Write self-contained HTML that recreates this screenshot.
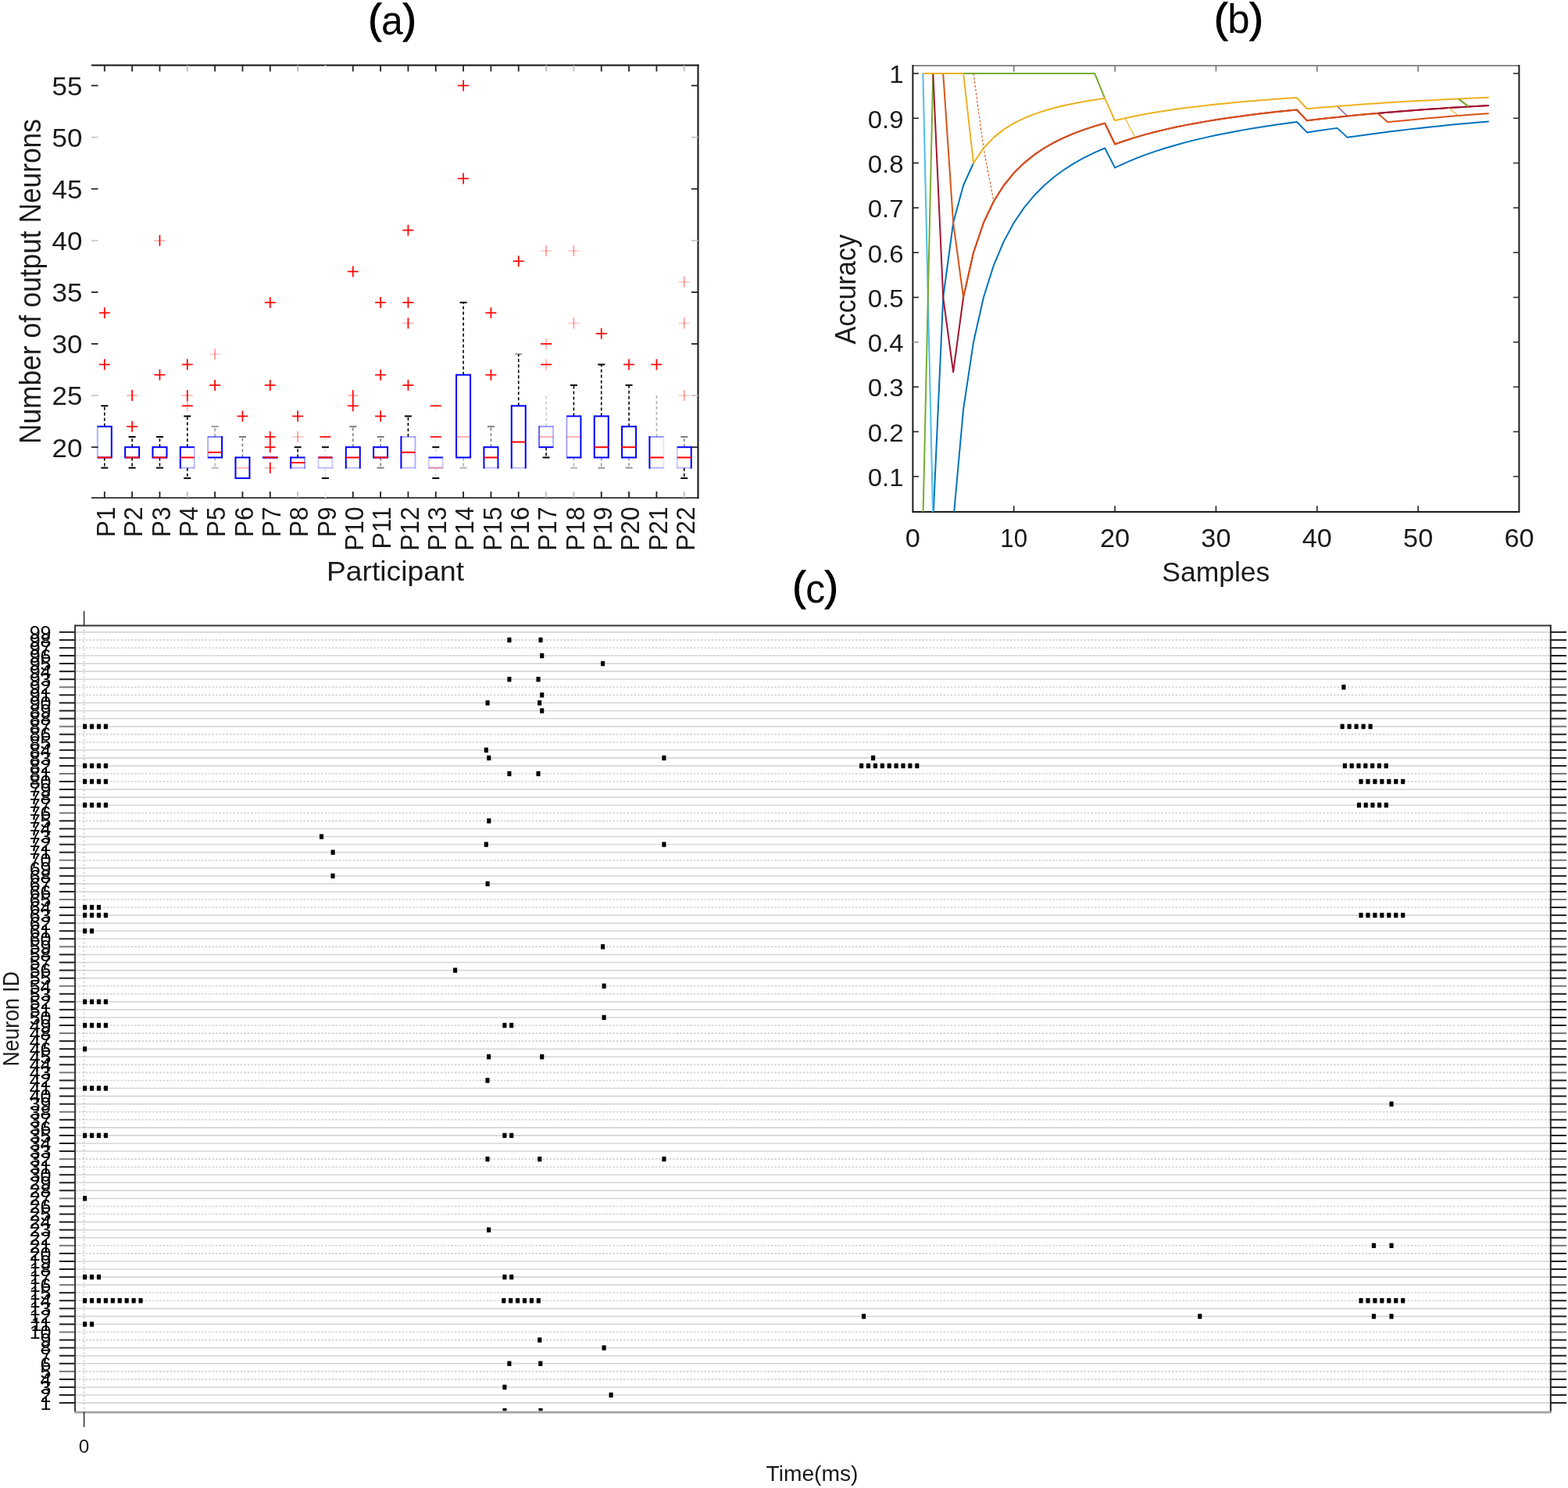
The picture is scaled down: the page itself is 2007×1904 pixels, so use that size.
<!DOCTYPE html>
<html><head><meta charset="utf-8"><title>Figure</title>
<style>html,body{margin:0;padding:0;background:#fff;}svg{display:block;}</style></head>
<body>
<svg width="2007" height="1904" viewBox="0 0 2007 1904" font-family="'Liberation Sans', Arial, Helvetica, sans-serif">
<rect width="100%" height="100%" fill="#fff"/>
<defs><clipPath id="cc"><rect x="96.1" y="800.6" width="1888.7" height="1004.7"/></clipPath></defs>
<text transform="translate(502 41.5) scale(0.96 1)" font-size="52" text-anchor="middle" fill="#000"><tspan stroke="#000" stroke-width="1.3">(</tspan><tspan dy="2.5">a</tspan><tspan dy="-2.5" stroke="#000" stroke-width="1.3">)</tspan></text>
<text transform="translate(1585.5 41) scale(0.98 1)" font-size="52" text-anchor="middle" fill="#000"><tspan stroke="#000" stroke-width="1.3">(</tspan><tspan dy="1.3">b</tspan><tspan dy="-1.3" stroke="#000" stroke-width="1.3">)</tspan></text>
<text transform="translate(1043.6 768) scale(0.96 1)" font-size="52" text-anchor="middle" fill="#000"><tspan stroke="#000" stroke-width="1.3">(</tspan><tspan dy="3">c</tspan><tspan dy="-3" stroke="#000" stroke-width="1.3">)</tspan></text>
<line x1="117" y1="83.5" x2="894.5" y2="83.5" stroke="#111" stroke-width="2.2"/>
<line x1="117" y1="637" x2="894.5" y2="637" stroke="#444" stroke-width="1.8"/>
<line x1="893.5" y1="82.5" x2="893.5" y2="638" stroke="#222" stroke-width="2.2"/>
<line x1="117" y1="572.2" x2="125.5" y2="572.2" stroke="#222" stroke-width="1.8"/>
<line x1="885" y1="572.2" x2="893.5" y2="572.2" stroke="#222" stroke-width="1.8"/>
<text transform="translate(105.5 584.5) scale(1.06 1)" font-size="33" text-anchor="end" fill="#1a1a1a">20</text>
<line x1="117" y1="506.1" x2="125.5" y2="506.1" stroke="#c8c8c8" stroke-width="1.8"/>
<line x1="885" y1="506.1" x2="893.5" y2="506.1" stroke="#c8c8c8" stroke-width="1.8"/>
<text transform="translate(105.5 518.4) scale(1.06 1)" font-size="33" text-anchor="end" fill="#1a1a1a">25</text>
<line x1="117" y1="440" x2="125.5" y2="440" stroke="#222" stroke-width="1.8"/>
<line x1="885" y1="440" x2="893.5" y2="440" stroke="#222" stroke-width="1.8"/>
<text transform="translate(105.5 452.3) scale(1.06 1)" font-size="33" text-anchor="end" fill="#1a1a1a">30</text>
<line x1="117" y1="373.9" x2="125.5" y2="373.9" stroke="#222" stroke-width="1.8"/>
<line x1="885" y1="373.9" x2="893.5" y2="373.9" stroke="#222" stroke-width="1.8"/>
<text transform="translate(105.5 386.2) scale(1.06 1)" font-size="33" text-anchor="end" fill="#1a1a1a">35</text>
<line x1="117" y1="307.8" x2="125.5" y2="307.8" stroke="#c8c8c8" stroke-width="1.8"/>
<line x1="885" y1="307.8" x2="893.5" y2="307.8" stroke="#c8c8c8" stroke-width="1.8"/>
<text transform="translate(105.5 320.1) scale(1.06 1)" font-size="33" text-anchor="end" fill="#1a1a1a">40</text>
<line x1="117" y1="241.7" x2="125.5" y2="241.7" stroke="#222" stroke-width="1.8"/>
<line x1="885" y1="241.7" x2="893.5" y2="241.7" stroke="#222" stroke-width="1.8"/>
<text transform="translate(105.5 254) scale(1.06 1)" font-size="33" text-anchor="end" fill="#1a1a1a">45</text>
<line x1="117" y1="175.6" x2="125.5" y2="175.6" stroke="#c8c8c8" stroke-width="1.8"/>
<line x1="885" y1="175.6" x2="893.5" y2="175.6" stroke="#c8c8c8" stroke-width="1.8"/>
<text transform="translate(105.5 187.9) scale(1.06 1)" font-size="33" text-anchor="end" fill="#1a1a1a">50</text>
<line x1="117" y1="109.5" x2="125.5" y2="109.5" stroke="#222" stroke-width="1.8"/>
<line x1="885" y1="109.5" x2="893.5" y2="109.5" stroke="#222" stroke-width="1.8"/>
<text transform="translate(105.5 121.8) scale(1.06 1)" font-size="33" text-anchor="end" fill="#1a1a1a">55</text>
<line x1="133.8" y1="637" x2="133.8" y2="629" stroke="#222" stroke-width="1.8"/>
<line x1="133.8" y1="83.5" x2="133.8" y2="91.5" stroke="#222" stroke-width="1.8"/>
<text transform="translate(147 648.5) rotate(-90) scale(1 1.07)" font-size="31.6" text-anchor="end" fill="#1a1a1a">P1</text>
<line x1="169.13" y1="637" x2="169.13" y2="629" stroke="#222" stroke-width="1.8"/>
<line x1="169.13" y1="83.5" x2="169.13" y2="91.5" stroke="#222" stroke-width="1.8"/>
<text transform="translate(182.33 648.5) rotate(-90) scale(1 1.07)" font-size="31.6" text-anchor="end" fill="#1a1a1a">P2</text>
<line x1="204.46" y1="637" x2="204.46" y2="629" stroke="#222" stroke-width="1.8"/>
<line x1="204.46" y1="83.5" x2="204.46" y2="91.5" stroke="#222" stroke-width="1.8"/>
<text transform="translate(217.66 648.5) rotate(-90) scale(1 1.07)" font-size="31.6" text-anchor="end" fill="#1a1a1a">P3</text>
<line x1="239.79" y1="637" x2="239.79" y2="629" stroke="#bdbdbd" stroke-width="1.8"/>
<line x1="239.79" y1="83.5" x2="239.79" y2="91.5" stroke="#bdbdbd" stroke-width="1.8"/>
<text transform="translate(252.99 648.5) rotate(-90) scale(1 1.07)" font-size="31.6" text-anchor="end" fill="#1a1a1a">P4</text>
<line x1="275.12" y1="637" x2="275.12" y2="629" stroke="#222" stroke-width="1.8"/>
<line x1="275.12" y1="83.5" x2="275.12" y2="91.5" stroke="#222" stroke-width="1.8"/>
<text transform="translate(288.32 648.5) rotate(-90) scale(1 1.07)" font-size="31.6" text-anchor="end" fill="#1a1a1a">P5</text>
<line x1="310.45" y1="637" x2="310.45" y2="629" stroke="#222" stroke-width="1.8"/>
<line x1="310.45" y1="83.5" x2="310.45" y2="91.5" stroke="#222" stroke-width="1.8"/>
<text transform="translate(323.65 648.5) rotate(-90) scale(1 1.07)" font-size="31.6" text-anchor="end" fill="#1a1a1a">P6</text>
<line x1="345.78" y1="637" x2="345.78" y2="629" stroke="#222" stroke-width="1.8"/>
<line x1="345.78" y1="83.5" x2="345.78" y2="91.5" stroke="#222" stroke-width="1.8"/>
<text transform="translate(358.98 648.5) rotate(-90) scale(1 1.07)" font-size="31.6" text-anchor="end" fill="#1a1a1a">P7</text>
<line x1="381.11" y1="637" x2="381.11" y2="629" stroke="#bdbdbd" stroke-width="1.8"/>
<line x1="381.11" y1="83.5" x2="381.11" y2="91.5" stroke="#bdbdbd" stroke-width="1.8"/>
<text transform="translate(394.31 648.5) rotate(-90) scale(1 1.07)" font-size="31.6" text-anchor="end" fill="#1a1a1a">P8</text>
<line x1="416.44" y1="637" x2="416.44" y2="629" stroke="#f0f0f0" stroke-width="1.8"/>
<line x1="416.44" y1="83.5" x2="416.44" y2="91.5" stroke="#f0f0f0" stroke-width="1.8"/>
<text transform="translate(429.64 648.5) rotate(-90) scale(1 1.07)" font-size="31.6" text-anchor="end" fill="#1a1a1a">P9</text>
<line x1="451.77" y1="637" x2="451.77" y2="629" stroke="#222" stroke-width="1.8"/>
<line x1="451.77" y1="83.5" x2="451.77" y2="91.5" stroke="#222" stroke-width="1.8"/>
<text transform="translate(464.97 648.5) rotate(-90) scale(1 1.07)" font-size="31.6" text-anchor="end" fill="#1a1a1a">P10</text>
<line x1="487.1" y1="637" x2="487.1" y2="629" stroke="#222" stroke-width="1.8"/>
<line x1="487.1" y1="83.5" x2="487.1" y2="91.5" stroke="#222" stroke-width="1.8"/>
<text transform="translate(500.3 648.5) rotate(-90) scale(1 1.07)" font-size="31.6" text-anchor="end" fill="#1a1a1a">P11</text>
<line x1="522.43" y1="637" x2="522.43" y2="629" stroke="#222" stroke-width="1.8"/>
<line x1="522.43" y1="83.5" x2="522.43" y2="91.5" stroke="#222" stroke-width="1.8"/>
<text transform="translate(535.63 648.5) rotate(-90) scale(1 1.07)" font-size="31.6" text-anchor="end" fill="#1a1a1a">P12</text>
<line x1="557.76" y1="637" x2="557.76" y2="629" stroke="#222" stroke-width="1.8"/>
<line x1="557.76" y1="83.5" x2="557.76" y2="91.5" stroke="#222" stroke-width="1.8"/>
<text transform="translate(570.96 648.5) rotate(-90) scale(1 1.07)" font-size="31.6" text-anchor="end" fill="#1a1a1a">P13</text>
<line x1="593.09" y1="637" x2="593.09" y2="629" stroke="#222" stroke-width="1.8"/>
<line x1="593.09" y1="83.5" x2="593.09" y2="91.5" stroke="#222" stroke-width="1.8"/>
<text transform="translate(606.29 648.5) rotate(-90) scale(1 1.07)" font-size="31.6" text-anchor="end" fill="#1a1a1a">P14</text>
<line x1="628.42" y1="637" x2="628.42" y2="629" stroke="#222" stroke-width="1.8"/>
<line x1="628.42" y1="83.5" x2="628.42" y2="91.5" stroke="#222" stroke-width="1.8"/>
<text transform="translate(641.62 648.5) rotate(-90) scale(1 1.07)" font-size="31.6" text-anchor="end" fill="#1a1a1a">P15</text>
<line x1="663.75" y1="637" x2="663.75" y2="629" stroke="#222" stroke-width="1.8"/>
<line x1="663.75" y1="83.5" x2="663.75" y2="91.5" stroke="#222" stroke-width="1.8"/>
<text transform="translate(676.95 648.5) rotate(-90) scale(1 1.07)" font-size="31.6" text-anchor="end" fill="#1a1a1a">P16</text>
<line x1="699.08" y1="637" x2="699.08" y2="629" stroke="#bdbdbd" stroke-width="1.8"/>
<line x1="699.08" y1="83.5" x2="699.08" y2="91.5" stroke="#bdbdbd" stroke-width="1.8"/>
<text transform="translate(712.28 648.5) rotate(-90) scale(1 1.07)" font-size="31.6" text-anchor="end" fill="#1a1a1a">P17</text>
<line x1="734.41" y1="637" x2="734.41" y2="629" stroke="#bdbdbd" stroke-width="1.8"/>
<line x1="734.41" y1="83.5" x2="734.41" y2="91.5" stroke="#bdbdbd" stroke-width="1.8"/>
<text transform="translate(747.61 648.5) rotate(-90) scale(1 1.07)" font-size="31.6" text-anchor="end" fill="#1a1a1a">P18</text>
<line x1="769.74" y1="637" x2="769.74" y2="629" stroke="#222" stroke-width="1.8"/>
<line x1="769.74" y1="83.5" x2="769.74" y2="91.5" stroke="#222" stroke-width="1.8"/>
<text transform="translate(782.94 648.5) rotate(-90) scale(1 1.07)" font-size="31.6" text-anchor="end" fill="#1a1a1a">P19</text>
<line x1="805.07" y1="637" x2="805.07" y2="629" stroke="#222" stroke-width="1.8"/>
<line x1="805.07" y1="83.5" x2="805.07" y2="91.5" stroke="#222" stroke-width="1.8"/>
<text transform="translate(818.27 648.5) rotate(-90) scale(1 1.07)" font-size="31.6" text-anchor="end" fill="#1a1a1a">P20</text>
<line x1="840.4" y1="637" x2="840.4" y2="629" stroke="#222" stroke-width="1.8"/>
<line x1="840.4" y1="83.5" x2="840.4" y2="91.5" stroke="#222" stroke-width="1.8"/>
<text transform="translate(853.6 648.5) rotate(-90) scale(1 1.07)" font-size="31.6" text-anchor="end" fill="#1a1a1a">P21</text>
<line x1="875.73" y1="637" x2="875.73" y2="629" stroke="#bdbdbd" stroke-width="1.8"/>
<line x1="875.73" y1="83.5" x2="875.73" y2="91.5" stroke="#bdbdbd" stroke-width="1.8"/>
<text transform="translate(888.93 648.5) rotate(-90) scale(1 1.07)" font-size="31.6" text-anchor="end" fill="#1a1a1a">P22</text>
<text transform="translate(506 742.5) scale(1.09 1)" font-size="34.2" text-anchor="middle" fill="#1a1a1a">Participant</text>
<text transform="translate(52.1 360.1) rotate(-90) scale(1 1.09)" font-size="35.3" text-anchor="middle" fill="#1a1a1a">Number of output Neurons</text>
<line x1="133.8" y1="545.76" x2="133.8" y2="519.32" stroke="#000" stroke-width="1.6" stroke-dasharray="4 3"/>
<line x1="129.3" y1="519.32" x2="138.3" y2="519.32" stroke="#000" stroke-width="2"/>
<line x1="133.8" y1="585.42" x2="133.8" y2="598.64" stroke="#000" stroke-width="1.6" stroke-dasharray="4 3"/>
<line x1="129.3" y1="598.64" x2="138.3" y2="598.64" stroke="#000" stroke-width="2"/>
<line x1="124.8" y1="544.76" x2="124.8" y2="586.42" stroke="#0000ff" stroke-width="2" opacity="0.3"/>
<line x1="142.8" y1="544.76" x2="142.8" y2="586.42" stroke="#0000ff" stroke-width="2"/>
<line x1="124.8" y1="545.76" x2="142.8" y2="545.76" stroke="#0000ff" stroke-width="2"/>
<line x1="124.8" y1="585.42" x2="142.8" y2="585.42" stroke="#0000ff" stroke-width="2"/>
<line x1="124.8" y1="585.42" x2="142.8" y2="585.42" stroke="#ff0000" stroke-width="2"/>
<line x1="126.8" y1="466.44" x2="140.8" y2="466.44" stroke="#ff0000" stroke-width="1.7"/>
<line x1="133.8" y1="459.44" x2="133.8" y2="473.44" stroke="#ff0000" stroke-width="1.7"/>
<line x1="126.8" y1="400.34" x2="140.8" y2="400.34" stroke="#ff0000" stroke-width="1.7"/>
<line x1="133.8" y1="393.34" x2="133.8" y2="407.34" stroke="#ff0000" stroke-width="1.7"/>
<line x1="169.13" y1="572.2" x2="169.13" y2="558.98" stroke="#000" stroke-width="1.6" stroke-dasharray="4 3"/>
<line x1="164.63" y1="558.98" x2="173.63" y2="558.98" stroke="#000" stroke-width="2"/>
<line x1="169.13" y1="585.42" x2="169.13" y2="598.64" stroke="#000" stroke-width="1.6" stroke-dasharray="4 3"/>
<line x1="164.63" y1="598.64" x2="173.63" y2="598.64" stroke="#000" stroke-width="2"/>
<line x1="160.13" y1="571.2" x2="160.13" y2="586.42" stroke="#0000ff" stroke-width="2"/>
<line x1="178.13" y1="571.2" x2="178.13" y2="586.42" stroke="#0000ff" stroke-width="2"/>
<line x1="160.13" y1="572.2" x2="178.13" y2="572.2" stroke="#0000ff" stroke-width="2"/>
<line x1="160.13" y1="585.42" x2="178.13" y2="585.42" stroke="#0000ff" stroke-width="2"/>
<line x1="160.13" y1="585.42" x2="178.13" y2="585.42" stroke="#ff0000" stroke-width="2"/>
<line x1="162.13" y1="545.76" x2="176.13" y2="545.76" stroke="#ff0000" stroke-width="1.7"/>
<line x1="169.13" y1="538.76" x2="169.13" y2="552.76" stroke="#ff0000" stroke-width="1.7"/>
<line x1="162.13" y1="506.1" x2="176.13" y2="506.1" stroke="#ff0000" stroke-width="1.7" opacity="0.3"/>
<line x1="169.13" y1="499.1" x2="169.13" y2="513.1" stroke="#ff0000" stroke-width="1.7"/>
<line x1="204.46" y1="572.2" x2="204.46" y2="558.98" stroke="#000" stroke-width="1.6" stroke-dasharray="4 3"/>
<line x1="199.96" y1="558.98" x2="208.96" y2="558.98" stroke="#000" stroke-width="2"/>
<line x1="204.46" y1="585.42" x2="204.46" y2="598.64" stroke="#000" stroke-width="1.6" stroke-dasharray="4 3"/>
<line x1="199.96" y1="598.64" x2="208.96" y2="598.64" stroke="#000" stroke-width="2"/>
<line x1="195.46" y1="571.2" x2="195.46" y2="586.42" stroke="#0000ff" stroke-width="2"/>
<line x1="213.46" y1="571.2" x2="213.46" y2="586.42" stroke="#0000ff" stroke-width="2"/>
<line x1="195.46" y1="572.2" x2="213.46" y2="572.2" stroke="#0000ff" stroke-width="2"/>
<line x1="195.46" y1="585.42" x2="213.46" y2="585.42" stroke="#0000ff" stroke-width="2"/>
<line x1="195.46" y1="585.42" x2="213.46" y2="585.42" stroke="#ff0000" stroke-width="2"/>
<line x1="197.46" y1="479.66" x2="211.46" y2="479.66" stroke="#ff0000" stroke-width="1.7"/>
<line x1="204.46" y1="472.66" x2="204.46" y2="486.66" stroke="#ff0000" stroke-width="1.7"/>
<line x1="197.46" y1="307.8" x2="211.46" y2="307.8" stroke="#ff0000" stroke-width="1.7" opacity="0.3"/>
<line x1="204.46" y1="300.8" x2="204.46" y2="314.8" stroke="#ff0000" stroke-width="1.7"/>
<line x1="239.79" y1="572.2" x2="239.79" y2="532.54" stroke="#000" stroke-width="1.6" stroke-dasharray="4 3"/>
<line x1="235.29" y1="532.54" x2="244.29" y2="532.54" stroke="#000" stroke-width="2"/>
<line x1="239.79" y1="598.64" x2="239.79" y2="611.86" stroke="#000" stroke-width="1.6" stroke-dasharray="4 3"/>
<line x1="235.29" y1="611.86" x2="244.29" y2="611.86" stroke="#000" stroke-width="2"/>
<line x1="230.79" y1="571.2" x2="230.79" y2="599.64" stroke="#0000ff" stroke-width="2"/>
<line x1="248.79" y1="571.2" x2="248.79" y2="599.64" stroke="#0000ff" stroke-width="2" opacity="0.25"/>
<line x1="230.79" y1="572.2" x2="248.79" y2="572.2" stroke="#0000ff" stroke-width="2"/>
<line x1="230.79" y1="598.64" x2="248.79" y2="598.64" stroke="#0000ff" stroke-width="2" opacity="0.3"/>
<line x1="230.79" y1="585.42" x2="248.79" y2="585.42" stroke="#ff0000" stroke-width="2"/>
<line x1="232.79" y1="519.32" x2="246.79" y2="519.32" stroke="#ff0000" stroke-width="1.7"/>
<line x1="239.79" y1="512.32" x2="239.79" y2="526.32" stroke="#ff0000" stroke-width="1.7" opacity="0.3"/>
<line x1="232.79" y1="506.1" x2="246.79" y2="506.1" stroke="#ff0000" stroke-width="1.7" opacity="0.3"/>
<line x1="239.79" y1="499.1" x2="239.79" y2="513.1" stroke="#ff0000" stroke-width="1.7"/>
<line x1="232.79" y1="466.44" x2="246.79" y2="466.44" stroke="#ff0000" stroke-width="1.7"/>
<line x1="239.79" y1="459.44" x2="239.79" y2="473.44" stroke="#ff0000" stroke-width="1.7"/>
<line x1="275.12" y1="558.98" x2="275.12" y2="545.76" stroke="#000" stroke-width="1.6" stroke-dasharray="4 3" opacity="0.4"/>
<line x1="270.62" y1="545.76" x2="279.62" y2="545.76" stroke="#000" stroke-width="2" opacity="0.4"/>
<line x1="275.12" y1="585.42" x2="275.12" y2="598.64" stroke="#000" stroke-width="1.6" stroke-dasharray="4 3" opacity="0.3"/>
<line x1="270.62" y1="598.64" x2="279.62" y2="598.64" stroke="#000" stroke-width="2" opacity="0.3"/>
<line x1="266.12" y1="557.98" x2="266.12" y2="586.42" stroke="#0000ff" stroke-width="2" opacity="0.3"/>
<line x1="284.12" y1="557.98" x2="284.12" y2="586.42" stroke="#0000ff" stroke-width="2"/>
<line x1="266.12" y1="558.98" x2="284.12" y2="558.98" stroke="#0000ff" stroke-width="2" opacity="0.5"/>
<line x1="266.12" y1="585.42" x2="284.12" y2="585.42" stroke="#0000ff" stroke-width="2"/>
<line x1="266.12" y1="578.81" x2="284.12" y2="578.81" stroke="#ff0000" stroke-width="2"/>
<line x1="268.12" y1="492.88" x2="282.12" y2="492.88" stroke="#ff0000" stroke-width="1.7"/>
<line x1="275.12" y1="485.88" x2="275.12" y2="499.88" stroke="#ff0000" stroke-width="1.7"/>
<line x1="268.12" y1="453.22" x2="282.12" y2="453.22" stroke="#ff0000" stroke-width="1.7" opacity="0.22"/>
<line x1="275.12" y1="446.22" x2="275.12" y2="460.22" stroke="#ff0000" stroke-width="1.7" opacity="0.4"/>
<line x1="310.45" y1="585.42" x2="310.45" y2="558.98" stroke="#000" stroke-width="1.6" stroke-dasharray="4 3" opacity="0.5"/>
<line x1="305.95" y1="558.98" x2="314.95" y2="558.98" stroke="#000" stroke-width="2" opacity="0.5"/>
<line x1="301.45" y1="584.42" x2="301.45" y2="612.86" stroke="#0000ff" stroke-width="2"/>
<line x1="319.45" y1="584.42" x2="319.45" y2="612.86" stroke="#0000ff" stroke-width="2"/>
<line x1="301.45" y1="585.42" x2="319.45" y2="585.42" stroke="#0000ff" stroke-width="2"/>
<line x1="301.45" y1="611.86" x2="319.45" y2="611.86" stroke="#0000ff" stroke-width="2"/>
<line x1="301.45" y1="598.64" x2="319.45" y2="598.64" stroke="#ff0000" stroke-width="2" opacity="0.3"/>
<line x1="303.45" y1="532.54" x2="317.45" y2="532.54" stroke="#ff0000" stroke-width="1.7"/>
<line x1="310.45" y1="525.54" x2="310.45" y2="539.54" stroke="#ff0000" stroke-width="1.7"/>
<line x1="336.78" y1="584.42" x2="336.78" y2="586.42" stroke="#0000ff" stroke-width="2"/>
<line x1="354.78" y1="584.42" x2="354.78" y2="586.42" stroke="#0000ff" stroke-width="2"/>
<line x1="336.78" y1="585.42" x2="354.78" y2="585.42" stroke="#0000ff" stroke-width="2"/>
<line x1="336.78" y1="585.42" x2="354.78" y2="585.42" stroke="#0000ff" stroke-width="2"/>
<line x1="336.78" y1="585.42" x2="354.78" y2="585.42" stroke="#ff0000" stroke-width="2"/>
<line x1="338.78" y1="598.64" x2="352.78" y2="598.64" stroke="#ff0000" stroke-width="1.7" opacity="0.3"/>
<line x1="345.78" y1="591.64" x2="345.78" y2="605.64" stroke="#ff0000" stroke-width="1.7"/>
<line x1="338.78" y1="572.2" x2="352.78" y2="572.2" stroke="#ff0000" stroke-width="1.7"/>
<line x1="345.78" y1="565.2" x2="345.78" y2="579.2" stroke="#ff0000" stroke-width="1.7"/>
<line x1="338.78" y1="558.98" x2="352.78" y2="558.98" stroke="#ff0000" stroke-width="1.7"/>
<line x1="345.78" y1="551.98" x2="345.78" y2="565.98" stroke="#ff0000" stroke-width="1.7"/>
<line x1="338.78" y1="492.88" x2="352.78" y2="492.88" stroke="#ff0000" stroke-width="1.7"/>
<line x1="345.78" y1="485.88" x2="345.78" y2="499.88" stroke="#ff0000" stroke-width="1.7"/>
<line x1="338.78" y1="387.12" x2="352.78" y2="387.12" stroke="#ff0000" stroke-width="1.7"/>
<line x1="345.78" y1="380.12" x2="345.78" y2="394.12" stroke="#ff0000" stroke-width="1.7"/>
<line x1="381.11" y1="585.42" x2="381.11" y2="572.2" stroke="#000" stroke-width="1.6" stroke-dasharray="4 3"/>
<line x1="376.61" y1="572.2" x2="385.61" y2="572.2" stroke="#000" stroke-width="2"/>
<line x1="372.11" y1="584.42" x2="372.11" y2="599.64" stroke="#0000ff" stroke-width="2"/>
<line x1="390.11" y1="584.42" x2="390.11" y2="599.64" stroke="#0000ff" stroke-width="2" opacity="0.4"/>
<line x1="372.11" y1="585.42" x2="390.11" y2="585.42" stroke="#0000ff" stroke-width="2"/>
<line x1="372.11" y1="598.64" x2="390.11" y2="598.64" stroke="#0000ff" stroke-width="2" opacity="0.3"/>
<line x1="372.11" y1="592.03" x2="390.11" y2="592.03" stroke="#ff0000" stroke-width="2"/>
<line x1="374.11" y1="558.98" x2="388.11" y2="558.98" stroke="#ff0000" stroke-width="1.7" opacity="0.22"/>
<line x1="381.11" y1="551.98" x2="381.11" y2="565.98" stroke="#ff0000" stroke-width="1.7" opacity="0.4"/>
<line x1="374.11" y1="532.54" x2="388.11" y2="532.54" stroke="#ff0000" stroke-width="1.7"/>
<line x1="381.11" y1="525.54" x2="381.11" y2="539.54" stroke="#ff0000" stroke-width="1.7"/>
<line x1="416.44" y1="585.42" x2="416.44" y2="572.2" stroke="#000" stroke-width="1.6" stroke-dasharray="4 3" opacity="0.12"/>
<line x1="411.94" y1="572.2" x2="420.94" y2="572.2" stroke="#000" stroke-width="2"/>
<line x1="416.44" y1="598.64" x2="416.44" y2="611.86" stroke="#000" stroke-width="1.6" stroke-dasharray="4 3" opacity="0.12"/>
<line x1="411.94" y1="611.86" x2="420.94" y2="611.86" stroke="#000" stroke-width="2"/>
<line x1="407.44" y1="584.42" x2="407.44" y2="599.64" stroke="#0000ff" stroke-width="2" opacity="0.2"/>
<line x1="425.44" y1="584.42" x2="425.44" y2="599.64" stroke="#0000ff" stroke-width="2" opacity="0.2"/>
<line x1="407.44" y1="585.42" x2="425.44" y2="585.42" stroke="#0000ff" stroke-width="2"/>
<line x1="407.44" y1="598.64" x2="425.44" y2="598.64" stroke="#0000ff" stroke-width="2" opacity="0.25"/>
<line x1="407.44" y1="585.42" x2="425.44" y2="585.42" stroke="#ff0000" stroke-width="2"/>
<line x1="409.44" y1="558.98" x2="423.44" y2="558.98" stroke="#ff0000" stroke-width="1.7"/>
<line x1="416.44" y1="551.98" x2="416.44" y2="565.98" stroke="#ff0000" stroke-width="1.7" opacity="0.08"/>
<line x1="451.77" y1="572.2" x2="451.77" y2="545.76" stroke="#000" stroke-width="1.6" stroke-dasharray="4 3" opacity="0.5"/>
<line x1="447.27" y1="545.76" x2="456.27" y2="545.76" stroke="#000" stroke-width="2" opacity="0.5"/>
<line x1="442.77" y1="571.2" x2="442.77" y2="599.64" stroke="#0000ff" stroke-width="2"/>
<line x1="460.77" y1="571.2" x2="460.77" y2="599.64" stroke="#0000ff" stroke-width="2"/>
<line x1="442.77" y1="572.2" x2="460.77" y2="572.2" stroke="#0000ff" stroke-width="2"/>
<line x1="442.77" y1="598.64" x2="460.77" y2="598.64" stroke="#0000ff" stroke-width="2" opacity="0.25"/>
<line x1="442.77" y1="585.42" x2="460.77" y2="585.42" stroke="#ff0000" stroke-width="2"/>
<line x1="444.77" y1="519.32" x2="458.77" y2="519.32" stroke="#ff0000" stroke-width="1.7"/>
<line x1="451.77" y1="512.32" x2="451.77" y2="526.32" stroke="#ff0000" stroke-width="1.7"/>
<line x1="444.77" y1="506.1" x2="458.77" y2="506.1" stroke="#ff0000" stroke-width="1.7" opacity="0.3"/>
<line x1="451.77" y1="499.1" x2="451.77" y2="513.1" stroke="#ff0000" stroke-width="1.7"/>
<line x1="444.77" y1="347.46" x2="458.77" y2="347.46" stroke="#ff0000" stroke-width="1.7"/>
<line x1="451.77" y1="340.46" x2="451.77" y2="354.46" stroke="#ff0000" stroke-width="1.7"/>
<line x1="487.1" y1="572.2" x2="487.1" y2="558.98" stroke="#000" stroke-width="1.6" stroke-dasharray="4 3" opacity="0.5"/>
<line x1="482.6" y1="558.98" x2="491.6" y2="558.98" stroke="#000" stroke-width="2" opacity="0.5"/>
<line x1="487.1" y1="585.42" x2="487.1" y2="598.64" stroke="#000" stroke-width="1.6" stroke-dasharray="4 3" opacity="0.5"/>
<line x1="482.6" y1="598.64" x2="491.6" y2="598.64" stroke="#000" stroke-width="2" opacity="0.5"/>
<line x1="478.1" y1="571.2" x2="478.1" y2="586.42" stroke="#0000ff" stroke-width="2"/>
<line x1="496.1" y1="571.2" x2="496.1" y2="586.42" stroke="#0000ff" stroke-width="2"/>
<line x1="478.1" y1="572.2" x2="496.1" y2="572.2" stroke="#0000ff" stroke-width="2"/>
<line x1="478.1" y1="585.42" x2="496.1" y2="585.42" stroke="#0000ff" stroke-width="2"/>
<line x1="478.1" y1="585.42" x2="496.1" y2="585.42" stroke="#ff0000" stroke-width="2"/>
<line x1="480.1" y1="532.54" x2="494.1" y2="532.54" stroke="#ff0000" stroke-width="1.7"/>
<line x1="487.1" y1="525.54" x2="487.1" y2="539.54" stroke="#ff0000" stroke-width="1.7"/>
<line x1="480.1" y1="479.66" x2="494.1" y2="479.66" stroke="#ff0000" stroke-width="1.7"/>
<line x1="487.1" y1="472.66" x2="487.1" y2="486.66" stroke="#ff0000" stroke-width="1.7"/>
<line x1="480.1" y1="387.12" x2="494.1" y2="387.12" stroke="#ff0000" stroke-width="1.7"/>
<line x1="487.1" y1="380.12" x2="487.1" y2="394.12" stroke="#ff0000" stroke-width="1.7"/>
<line x1="522.43" y1="558.98" x2="522.43" y2="532.54" stroke="#000" stroke-width="1.6" stroke-dasharray="4 3"/>
<line x1="517.93" y1="532.54" x2="526.93" y2="532.54" stroke="#000" stroke-width="2"/>
<line x1="513.43" y1="557.98" x2="513.43" y2="599.64" stroke="#0000ff" stroke-width="2"/>
<line x1="531.43" y1="557.98" x2="531.43" y2="599.64" stroke="#0000ff" stroke-width="2" opacity="0.3"/>
<line x1="513.43" y1="558.98" x2="531.43" y2="558.98" stroke="#0000ff" stroke-width="2" opacity="0.3"/>
<line x1="513.43" y1="598.64" x2="531.43" y2="598.64" stroke="#0000ff" stroke-width="2" opacity="0.25"/>
<line x1="513.43" y1="578.81" x2="531.43" y2="578.81" stroke="#ff0000" stroke-width="2"/>
<line x1="515.43" y1="492.88" x2="529.43" y2="492.88" stroke="#ff0000" stroke-width="1.7"/>
<line x1="522.43" y1="485.88" x2="522.43" y2="499.88" stroke="#ff0000" stroke-width="1.7"/>
<line x1="515.43" y1="413.56" x2="529.43" y2="413.56" stroke="#ff0000" stroke-width="1.7" opacity="0.3"/>
<line x1="522.43" y1="406.56" x2="522.43" y2="420.56" stroke="#ff0000" stroke-width="1.7"/>
<line x1="515.43" y1="387.12" x2="529.43" y2="387.12" stroke="#ff0000" stroke-width="1.7"/>
<line x1="522.43" y1="380.12" x2="522.43" y2="394.12" stroke="#ff0000" stroke-width="1.7"/>
<line x1="515.43" y1="294.58" x2="529.43" y2="294.58" stroke="#ff0000" stroke-width="1.7"/>
<line x1="522.43" y1="287.58" x2="522.43" y2="301.58" stroke="#ff0000" stroke-width="1.7"/>
<line x1="557.76" y1="585.42" x2="557.76" y2="572.2" stroke="#000" stroke-width="1.6" stroke-dasharray="4 3" opacity="0.12"/>
<line x1="553.26" y1="572.2" x2="562.26" y2="572.2" stroke="#000" stroke-width="2"/>
<line x1="557.76" y1="598.64" x2="557.76" y2="611.86" stroke="#000" stroke-width="1.6" stroke-dasharray="4 3" opacity="0.12"/>
<line x1="553.26" y1="611.86" x2="562.26" y2="611.86" stroke="#000" stroke-width="2"/>
<line x1="548.76" y1="584.42" x2="548.76" y2="599.64" stroke="#0000ff" stroke-width="2" opacity="0.2"/>
<line x1="566.76" y1="584.42" x2="566.76" y2="599.64" stroke="#0000ff" stroke-width="2" opacity="0.2"/>
<line x1="548.76" y1="585.42" x2="566.76" y2="585.42" stroke="#0000ff" stroke-width="2"/>
<line x1="548.76" y1="598.64" x2="566.76" y2="598.64" stroke="#0000ff" stroke-width="2" opacity="0.2"/>
<line x1="548.76" y1="598.64" x2="566.76" y2="598.64" stroke="#ff0000" stroke-width="2" opacity="0.3"/>
<line x1="550.76" y1="558.98" x2="564.76" y2="558.98" stroke="#ff0000" stroke-width="1.7"/>
<line x1="557.76" y1="551.98" x2="557.76" y2="565.98" stroke="#ff0000" stroke-width="1.7" opacity="0.08"/>
<line x1="550.76" y1="519.32" x2="564.76" y2="519.32" stroke="#ff0000" stroke-width="1.7"/>
<line x1="557.76" y1="512.32" x2="557.76" y2="526.32" stroke="#ff0000" stroke-width="1.7" opacity="0.08"/>
<line x1="593.09" y1="479.66" x2="593.09" y2="387.12" stroke="#000" stroke-width="1.6" stroke-dasharray="4 3"/>
<line x1="588.59" y1="387.12" x2="597.59" y2="387.12" stroke="#000" stroke-width="2"/>
<line x1="593.09" y1="585.42" x2="593.09" y2="598.64" stroke="#000" stroke-width="1.6" stroke-dasharray="4 3" opacity="0.3"/>
<line x1="588.59" y1="598.64" x2="597.59" y2="598.64" stroke="#000" stroke-width="2" opacity="0.3"/>
<line x1="584.09" y1="478.66" x2="584.09" y2="586.42" stroke="#0000ff" stroke-width="2"/>
<line x1="602.09" y1="478.66" x2="602.09" y2="586.42" stroke="#0000ff" stroke-width="2"/>
<line x1="584.09" y1="479.66" x2="602.09" y2="479.66" stroke="#0000ff" stroke-width="2"/>
<line x1="584.09" y1="585.42" x2="602.09" y2="585.42" stroke="#0000ff" stroke-width="2"/>
<line x1="584.09" y1="558.98" x2="602.09" y2="558.98" stroke="#ff0000" stroke-width="2" opacity="0.3"/>
<line x1="586.09" y1="228.48" x2="600.09" y2="228.48" stroke="#ff0000" stroke-width="1.7"/>
<line x1="593.09" y1="221.48" x2="593.09" y2="235.48" stroke="#ff0000" stroke-width="1.7"/>
<line x1="586.09" y1="109.5" x2="600.09" y2="109.5" stroke="#ff0000" stroke-width="1.7"/>
<line x1="593.09" y1="102.5" x2="593.09" y2="116.5" stroke="#ff0000" stroke-width="1.7"/>
<line x1="628.42" y1="572.2" x2="628.42" y2="545.76" stroke="#000" stroke-width="1.6" stroke-dasharray="4 3" opacity="0.5"/>
<line x1="623.92" y1="545.76" x2="632.92" y2="545.76" stroke="#000" stroke-width="2" opacity="0.5"/>
<line x1="619.42" y1="571.2" x2="619.42" y2="599.64" stroke="#0000ff" stroke-width="2"/>
<line x1="637.42" y1="571.2" x2="637.42" y2="599.64" stroke="#0000ff" stroke-width="2"/>
<line x1="619.42" y1="572.2" x2="637.42" y2="572.2" stroke="#0000ff" stroke-width="2"/>
<line x1="619.42" y1="598.64" x2="637.42" y2="598.64" stroke="#0000ff" stroke-width="2" opacity="0.25"/>
<line x1="619.42" y1="585.42" x2="637.42" y2="585.42" stroke="#ff0000" stroke-width="2"/>
<line x1="621.42" y1="479.66" x2="635.42" y2="479.66" stroke="#ff0000" stroke-width="1.7"/>
<line x1="628.42" y1="472.66" x2="628.42" y2="486.66" stroke="#ff0000" stroke-width="1.7"/>
<line x1="621.42" y1="400.34" x2="635.42" y2="400.34" stroke="#ff0000" stroke-width="1.7"/>
<line x1="628.42" y1="393.34" x2="628.42" y2="407.34" stroke="#ff0000" stroke-width="1.7"/>
<line x1="663.75" y1="519.32" x2="663.75" y2="453.22" stroke="#000" stroke-width="1.6" stroke-dasharray="4 3"/>
<line x1="659.25" y1="453.22" x2="668.25" y2="453.22" stroke="#000" stroke-width="2" opacity="0.4"/>
<line x1="654.75" y1="518.32" x2="654.75" y2="599.64" stroke="#0000ff" stroke-width="2"/>
<line x1="672.75" y1="518.32" x2="672.75" y2="599.64" stroke="#0000ff" stroke-width="2"/>
<line x1="654.75" y1="519.32" x2="672.75" y2="519.32" stroke="#0000ff" stroke-width="2"/>
<line x1="654.75" y1="598.64" x2="672.75" y2="598.64" stroke="#0000ff" stroke-width="2" opacity="0.25"/>
<line x1="654.75" y1="565.59" x2="672.75" y2="565.59" stroke="#ff0000" stroke-width="2"/>
<line x1="656.75" y1="334.24" x2="670.75" y2="334.24" stroke="#ff0000" stroke-width="1.7"/>
<line x1="663.75" y1="327.24" x2="663.75" y2="341.24" stroke="#ff0000" stroke-width="1.7"/>
<line x1="699.08" y1="545.76" x2="699.08" y2="506.1" stroke="#000" stroke-width="1.6" stroke-dasharray="4 3" opacity="0.2"/>
<line x1="699.08" y1="572.2" x2="699.08" y2="585.42" stroke="#000" stroke-width="1.6" stroke-dasharray="4 3"/>
<line x1="694.58" y1="585.42" x2="703.58" y2="585.42" stroke="#000" stroke-width="2"/>
<line x1="690.08" y1="544.76" x2="690.08" y2="573.2" stroke="#0000ff" stroke-width="2" opacity="0.6"/>
<line x1="708.08" y1="544.76" x2="708.08" y2="573.2" stroke="#0000ff" stroke-width="2" opacity="0.3"/>
<line x1="690.08" y1="545.76" x2="708.08" y2="545.76" stroke="#0000ff" stroke-width="2" opacity="0.4"/>
<line x1="690.08" y1="572.2" x2="708.08" y2="572.2" stroke="#0000ff" stroke-width="2"/>
<line x1="690.08" y1="558.98" x2="708.08" y2="558.98" stroke="#ff0000" stroke-width="2" opacity="0.3"/>
<line x1="692.08" y1="466.44" x2="706.08" y2="466.44" stroke="#ff0000" stroke-width="1.7"/>
<line x1="699.08" y1="459.44" x2="699.08" y2="473.44" stroke="#ff0000" stroke-width="1.7" opacity="0.3"/>
<line x1="692.08" y1="440" x2="706.08" y2="440" stroke="#ff0000" stroke-width="1.7"/>
<line x1="699.08" y1="433" x2="699.08" y2="447" stroke="#ff0000" stroke-width="1.7" opacity="0.3"/>
<line x1="692.08" y1="321.02" x2="706.08" y2="321.02" stroke="#ff0000" stroke-width="1.7" opacity="0.22"/>
<line x1="699.08" y1="314.02" x2="699.08" y2="328.02" stroke="#ff0000" stroke-width="1.7" opacity="0.4"/>
<line x1="734.41" y1="532.54" x2="734.41" y2="492.88" stroke="#000" stroke-width="1.6" stroke-dasharray="4 3"/>
<line x1="729.91" y1="492.88" x2="738.91" y2="492.88" stroke="#000" stroke-width="2"/>
<line x1="734.41" y1="585.42" x2="734.41" y2="598.64" stroke="#000" stroke-width="1.6" stroke-dasharray="4 3" opacity="0.3"/>
<line x1="729.91" y1="598.64" x2="738.91" y2="598.64" stroke="#000" stroke-width="2" opacity="0.3"/>
<line x1="725.41" y1="531.54" x2="725.41" y2="586.42" stroke="#0000ff" stroke-width="2" opacity="0.35"/>
<line x1="743.41" y1="531.54" x2="743.41" y2="586.42" stroke="#0000ff" stroke-width="2"/>
<line x1="725.41" y1="532.54" x2="743.41" y2="532.54" stroke="#0000ff" stroke-width="2"/>
<line x1="725.41" y1="585.42" x2="743.41" y2="585.42" stroke="#0000ff" stroke-width="2"/>
<line x1="725.41" y1="558.98" x2="743.41" y2="558.98" stroke="#ff0000" stroke-width="2" opacity="0.3"/>
<line x1="727.41" y1="413.56" x2="741.41" y2="413.56" stroke="#ff0000" stroke-width="1.7" opacity="0.22"/>
<line x1="734.41" y1="406.56" x2="734.41" y2="420.56" stroke="#ff0000" stroke-width="1.7" opacity="0.4"/>
<line x1="727.41" y1="321.02" x2="741.41" y2="321.02" stroke="#ff0000" stroke-width="1.7" opacity="0.22"/>
<line x1="734.41" y1="314.02" x2="734.41" y2="328.02" stroke="#ff0000" stroke-width="1.7" opacity="0.4"/>
<line x1="769.74" y1="532.54" x2="769.74" y2="466.44" stroke="#000" stroke-width="1.6" stroke-dasharray="4 3"/>
<line x1="765.24" y1="466.44" x2="774.24" y2="466.44" stroke="#000" stroke-width="2"/>
<line x1="769.74" y1="585.42" x2="769.74" y2="598.64" stroke="#000" stroke-width="1.6" stroke-dasharray="4 3" opacity="0.4"/>
<line x1="765.24" y1="598.64" x2="774.24" y2="598.64" stroke="#000" stroke-width="2" opacity="0.4"/>
<line x1="760.74" y1="531.54" x2="760.74" y2="586.42" stroke="#0000ff" stroke-width="2"/>
<line x1="778.74" y1="531.54" x2="778.74" y2="586.42" stroke="#0000ff" stroke-width="2"/>
<line x1="760.74" y1="532.54" x2="778.74" y2="532.54" stroke="#0000ff" stroke-width="2"/>
<line x1="760.74" y1="585.42" x2="778.74" y2="585.42" stroke="#0000ff" stroke-width="2"/>
<line x1="760.74" y1="572.2" x2="778.74" y2="572.2" stroke="#ff0000" stroke-width="2"/>
<line x1="762.74" y1="426.78" x2="776.74" y2="426.78" stroke="#ff0000" stroke-width="1.7"/>
<line x1="769.74" y1="419.78" x2="769.74" y2="433.78" stroke="#ff0000" stroke-width="1.7"/>
<line x1="805.07" y1="545.76" x2="805.07" y2="492.88" stroke="#000" stroke-width="1.6" stroke-dasharray="4 3"/>
<line x1="800.57" y1="492.88" x2="809.57" y2="492.88" stroke="#000" stroke-width="2"/>
<line x1="805.07" y1="585.42" x2="805.07" y2="598.64" stroke="#000" stroke-width="1.6" stroke-dasharray="4 3" opacity="0.4"/>
<line x1="800.57" y1="598.64" x2="809.57" y2="598.64" stroke="#000" stroke-width="2" opacity="0.4"/>
<line x1="796.07" y1="544.76" x2="796.07" y2="586.42" stroke="#0000ff" stroke-width="2"/>
<line x1="814.07" y1="544.76" x2="814.07" y2="586.42" stroke="#0000ff" stroke-width="2"/>
<line x1="796.07" y1="545.76" x2="814.07" y2="545.76" stroke="#0000ff" stroke-width="2"/>
<line x1="796.07" y1="585.42" x2="814.07" y2="585.42" stroke="#0000ff" stroke-width="2"/>
<line x1="796.07" y1="572.2" x2="814.07" y2="572.2" stroke="#ff0000" stroke-width="2"/>
<line x1="798.07" y1="466.44" x2="812.07" y2="466.44" stroke="#ff0000" stroke-width="1.7"/>
<line x1="805.07" y1="459.44" x2="805.07" y2="473.44" stroke="#ff0000" stroke-width="1.7"/>
<line x1="840.4" y1="558.98" x2="840.4" y2="506.1" stroke="#000" stroke-width="1.6" stroke-dasharray="4 3" opacity="0.3"/>
<line x1="831.4" y1="557.98" x2="831.4" y2="599.64" stroke="#0000ff" stroke-width="2"/>
<line x1="849.4" y1="557.98" x2="849.4" y2="599.64" stroke="#0000ff" stroke-width="2" opacity="0.1"/>
<line x1="831.4" y1="558.98" x2="849.4" y2="558.98" stroke="#0000ff" stroke-width="2" opacity="0.4"/>
<line x1="831.4" y1="598.64" x2="849.4" y2="598.64" stroke="#0000ff" stroke-width="2" opacity="0.3"/>
<line x1="831.4" y1="585.42" x2="849.4" y2="585.42" stroke="#ff0000" stroke-width="2"/>
<line x1="833.4" y1="466.44" x2="847.4" y2="466.44" stroke="#ff0000" stroke-width="1.7"/>
<line x1="840.4" y1="459.44" x2="840.4" y2="473.44" stroke="#ff0000" stroke-width="1.7"/>
<line x1="875.73" y1="572.2" x2="875.73" y2="558.98" stroke="#000" stroke-width="1.6" stroke-dasharray="4 3" opacity="0.5"/>
<line x1="871.23" y1="558.98" x2="880.23" y2="558.98" stroke="#000" stroke-width="2" opacity="0.5"/>
<line x1="875.73" y1="598.64" x2="875.73" y2="611.86" stroke="#000" stroke-width="1.6" stroke-dasharray="4 3"/>
<line x1="871.23" y1="611.86" x2="880.23" y2="611.86" stroke="#000" stroke-width="2"/>
<line x1="866.73" y1="571.2" x2="866.73" y2="599.64" stroke="#0000ff" stroke-width="2" opacity="0.2"/>
<line x1="884.73" y1="571.2" x2="884.73" y2="599.64" stroke="#0000ff" stroke-width="2"/>
<line x1="866.73" y1="572.2" x2="884.73" y2="572.2" stroke="#0000ff" stroke-width="2"/>
<line x1="866.73" y1="598.64" x2="884.73" y2="598.64" stroke="#0000ff" stroke-width="2" opacity="0.25"/>
<line x1="866.73" y1="585.42" x2="884.73" y2="585.42" stroke="#ff0000" stroke-width="2"/>
<line x1="868.73" y1="506.1" x2="882.73" y2="506.1" stroke="#ff0000" stroke-width="1.7" opacity="0.22"/>
<line x1="875.73" y1="499.1" x2="875.73" y2="513.1" stroke="#ff0000" stroke-width="1.7" opacity="0.4"/>
<line x1="868.73" y1="413.56" x2="882.73" y2="413.56" stroke="#ff0000" stroke-width="1.7" opacity="0.22"/>
<line x1="875.73" y1="406.56" x2="875.73" y2="420.56" stroke="#ff0000" stroke-width="1.7" opacity="0.4"/>
<line x1="868.73" y1="360.68" x2="882.73" y2="360.68" stroke="#ff0000" stroke-width="1.7" opacity="0.22"/>
<line x1="875.73" y1="353.68" x2="875.73" y2="367.68" stroke="#ff0000" stroke-width="1.7" opacity="0.4"/>
<line x1="1168.4" y1="84" x2="1944.4" y2="84" stroke="#8a8a8a" stroke-width="2"/>
<line x1="1168.4" y1="655" x2="1944.4" y2="655" stroke="#1a1a1a" stroke-width="2"/>
<line x1="1168.4" y1="83" x2="1168.4" y2="656" stroke="#1a1a1a" stroke-width="2"/>
<line x1="1944.4" y1="83" x2="1944.4" y2="656" stroke="#1a1a1a" stroke-width="2"/>
<text transform="translate(1168.4 700) scale(1.04 1)" font-size="33" text-anchor="middle" fill="#1a1a1a">0</text>
<line x1="1297.75" y1="655" x2="1297.75" y2="647.3" stroke="#222" stroke-width="1.6"/>
<line x1="1297.75" y1="84" x2="1297.75" y2="91.7" stroke="#777" stroke-width="1.6"/>
<text transform="translate(1297.75 700) scale(0.95 1)" font-size="33" text-anchor="middle" fill="#1a1a1a">10</text>
<line x1="1427.1" y1="655" x2="1427.1" y2="647.3" stroke="#222" stroke-width="1.6"/>
<line x1="1427.1" y1="84" x2="1427.1" y2="91.7" stroke="#777" stroke-width="1.6"/>
<text transform="translate(1427.1 700) scale(1.04 1)" font-size="33" text-anchor="middle" fill="#1a1a1a">20</text>
<line x1="1556.45" y1="655" x2="1556.45" y2="647.3" stroke="#222" stroke-width="1.6"/>
<line x1="1556.45" y1="84" x2="1556.45" y2="91.7" stroke="#777" stroke-width="1.6"/>
<text transform="translate(1556.45 700) scale(1.04 1)" font-size="33" text-anchor="middle" fill="#1a1a1a">30</text>
<line x1="1685.8" y1="655" x2="1685.8" y2="647.3" stroke="#222" stroke-width="1.6"/>
<line x1="1685.8" y1="84" x2="1685.8" y2="91.7" stroke="#777" stroke-width="1.6"/>
<text transform="translate(1685.8 700) scale(1.04 1)" font-size="33" text-anchor="middle" fill="#1a1a1a">40</text>
<line x1="1815.15" y1="655" x2="1815.15" y2="647.3" stroke="#222" stroke-width="1.6"/>
<line x1="1815.15" y1="84" x2="1815.15" y2="91.7" stroke="#777" stroke-width="1.6"/>
<text transform="translate(1815.15 700) scale(1.04 1)" font-size="33" text-anchor="middle" fill="#1a1a1a">50</text>
<text transform="translate(1944.5 700) scale(1.04 1)" font-size="33" text-anchor="middle" fill="#1a1a1a">60</text>
<line x1="1168.4" y1="609.7" x2="1175.9" y2="609.7" stroke="#222" stroke-width="1.6"/>
<line x1="1936.9" y1="609.7" x2="1944.4" y2="609.7" stroke="#333" stroke-width="1.6"/>
<text transform="translate(1156.5 622) scale(1.03 1)" font-size="32" text-anchor="end" fill="#1a1a1a">0.1</text>
<line x1="1168.4" y1="552.4" x2="1175.9" y2="552.4" stroke="#222" stroke-width="1.6"/>
<line x1="1936.9" y1="552.4" x2="1944.4" y2="552.4" stroke="#333" stroke-width="1.6"/>
<text transform="translate(1156.5 564.7) scale(1.03 1)" font-size="32" text-anchor="end" fill="#1a1a1a">0.2</text>
<line x1="1168.4" y1="495.1" x2="1175.9" y2="495.1" stroke="#222" stroke-width="1.6"/>
<line x1="1936.9" y1="495.1" x2="1944.4" y2="495.1" stroke="#333" stroke-width="1.6"/>
<text transform="translate(1156.5 507.4) scale(1.03 1)" font-size="32" text-anchor="end" fill="#1a1a1a">0.3</text>
<line x1="1168.4" y1="437.8" x2="1175.9" y2="437.8" stroke="#999" stroke-width="1.6"/>
<line x1="1936.9" y1="437.8" x2="1944.4" y2="437.8" stroke="#333" stroke-width="1.6"/>
<text transform="translate(1156.5 450.1) scale(1.03 1)" font-size="32" text-anchor="end" fill="#1a1a1a">0.4</text>
<line x1="1168.4" y1="380.5" x2="1175.9" y2="380.5" stroke="#222" stroke-width="1.6"/>
<line x1="1936.9" y1="380.5" x2="1944.4" y2="380.5" stroke="#333" stroke-width="1.6"/>
<text transform="translate(1156.5 392.8) scale(1.03 1)" font-size="32" text-anchor="end" fill="#1a1a1a">0.5</text>
<line x1="1168.4" y1="323.2" x2="1175.9" y2="323.2" stroke="#222" stroke-width="1.6"/>
<line x1="1936.9" y1="323.2" x2="1944.4" y2="323.2" stroke="#333" stroke-width="1.6"/>
<text transform="translate(1156.5 335.5) scale(1.03 1)" font-size="32" text-anchor="end" fill="#1a1a1a">0.6</text>
<line x1="1168.4" y1="265.9" x2="1175.9" y2="265.9" stroke="#222" stroke-width="1.6"/>
<line x1="1936.9" y1="265.9" x2="1944.4" y2="265.9" stroke="#333" stroke-width="1.6"/>
<text transform="translate(1156.5 278.2) scale(1.03 1)" font-size="32" text-anchor="end" fill="#1a1a1a">0.7</text>
<line x1="1168.4" y1="208.6" x2="1175.9" y2="208.6" stroke="#222" stroke-width="1.6"/>
<line x1="1936.9" y1="208.6" x2="1944.4" y2="208.6" stroke="#333" stroke-width="1.6"/>
<text transform="translate(1156.5 220.9) scale(1.03 1)" font-size="32" text-anchor="end" fill="#1a1a1a">0.8</text>
<line x1="1168.4" y1="151.3" x2="1175.9" y2="151.3" stroke="#222" stroke-width="1.6"/>
<line x1="1936.9" y1="151.3" x2="1944.4" y2="151.3" stroke="#333" stroke-width="1.6"/>
<text transform="translate(1156.5 163.6) scale(1.03 1)" font-size="32" text-anchor="end" fill="#1a1a1a">0.9</text>
<line x1="1168.4" y1="94" x2="1175.9" y2="94" stroke="#222" stroke-width="1.6"/>
<line x1="1936.9" y1="94" x2="1944.4" y2="94" stroke="#333" stroke-width="1.6"/>
<text transform="translate(1156.5 106.3) scale(1.03 1)" font-size="32" text-anchor="end" fill="#1a1a1a">1</text>
<text transform="translate(1556.3 743.8)" font-size="35.5" text-anchor="middle" fill="#1a1a1a">Samples</text>
<text transform="translate(1094.6 370.2) rotate(-90) scale(1 1.1)" font-size="34.2" text-anchor="middle" fill="#1a1a1a">Accuracy</text>
<defs><clipPath id="cb"><rect x="1168.4" y="84" width="776" height="571"/></clipPath></defs>
<g clip-path="url(#cb)" fill="none" stroke-linejoin="round">
<polyline points="1207.21,953.5 1220.14,667 1233.08,523.75 1246.01,437.8 1258.95,380.5 1271.88,339.57 1284.82,308.88 1297.75,285 1310.69,265.9 1323.62,250.27 1336.56,237.25 1349.49,226.23 1362.43,216.79 1375.36,208.6 1388.3,201.44 1401.23,195.12 1414.17,189.5 1427.1,214.63 1440.04,208.6 1452.97,203.14 1465.91,198.18 1478.84,193.65 1491.78,189.5 1504.71,185.68 1517.64,182.15 1530.58,178.89 1543.52,175.86 1556.45,173.03 1569.39,170.4 1582.32,167.94 1595.26,165.62 1608.19,163.45 1621.12,161.41 1634.06,159.49 1647,157.67 1659.93,155.95 1672.87,169.39 1685.8,167.46 1698.74,165.62 1711.67,163.88 1724.61,175.86 1737.54,173.95 1750.48,172.14 1763.41,170.4 1776.35,168.74 1789.28,167.15 1802.22,165.62 1815.15,164.16 1828.09,162.76 1841.02,161.41 1853.96,160.12 1866.89,158.87 1879.83,157.67 1892.76,156.51 1905.7,155.39" fill="none" stroke="#0072BD" stroke-width="2" stroke-linejoin="round"/>
<polyline points="1194.27,667 1207.21,380.5 1220.14,285 1233.08,237.25 1246.01,208.6" fill="none" stroke="#0072BD" stroke-width="2" stroke-linejoin="round"/>
<polyline points="1181.34,94 1194.27,667" fill="none" stroke="#4DBEEE" stroke-width="2" stroke-linejoin="round"/>
<polyline points="1181.34,667 1194.27,94 1207.21,94 1220.14,94 1233.08,94 1246.01,94 1258.95,94 1271.88,94 1284.82,94 1297.75,94 1310.69,94 1323.62,94 1336.56,94 1349.49,94 1362.43,94 1375.36,94 1388.3,94 1401.23,94 1414.17,125.83" fill="none" stroke="#77AC30" stroke-width="2" stroke-linejoin="round"/>
<polyline points="1866.89,126.43 1879.83,136.44" fill="none" stroke="#77AC30" stroke-width="2" stroke-linejoin="round"/>
<polyline points="1194.27,94 1207.21,380.5 1220.14,476 1233.08,380.5 1246.01,323.2 1258.95,285 1271.88,257.71 1284.82,237.25 1297.75,221.33 1310.69,208.6 1323.62,198.18 1336.56,189.5 1349.49,182.15 1362.43,175.86 1375.36,170.4 1388.3,165.62 1401.23,161.41 1414.17,157.67 1427.1,184.47 1440.04,179.95 1452.97,175.86 1465.91,172.14 1478.84,168.74 1491.78,165.62 1504.71,162.76 1517.64,160.12 1530.58,157.67 1543.52,155.39 1556.45,153.28 1569.39,151.3 1582.32,149.45 1595.26,147.72 1608.19,146.09 1621.12,144.56 1634.06,143.11 1647,141.75 1659.93,140.46 1672.87,154.32 1685.8,152.77 1698.74,151.3 1711.67,149.9 1724.61,148.57 1737.54,147.3 1750.48,146.09 1763.41,144.93 1776.35,143.83 1789.28,142.77 1802.22,141.75 1815.15,140.78 1828.09,139.84 1841.02,138.94 1853.96,138.08 1866.89,137.25 1879.83,136.44 1892.76,135.67 1905.7,134.93" fill="none" stroke="#A2142F" stroke-width="2" stroke-linejoin="round"/>
<polyline points="1711.67,135.93 1724.61,148.57" fill="none" stroke="#7E2F8E" stroke-width="1.2" stroke-linejoin="round"/>
<polyline points="1207.21,94 1220.14,285 1233.08,380.5 1246.01,323.2 1258.95,285 1271.88,257.71 1284.82,237.25 1297.75,221.33 1310.69,208.6 1323.62,198.18 1336.56,189.5 1349.49,182.15 1362.43,175.86 1375.36,170.4 1388.3,165.62 1401.23,161.41 1414.17,157.67 1427.1,184.47 1440.04,179.95 1452.97,175.86 1465.91,172.14 1478.84,168.74 1491.78,165.62 1504.71,162.76 1517.64,160.12 1530.58,157.67 1543.52,155.39 1556.45,153.28 1569.39,151.3 1582.32,149.45 1595.26,147.72 1608.19,146.09 1621.12,144.56 1634.06,143.11 1647,141.75 1659.93,140.46 1672.87,154.32 1685.8,152.77 1698.74,151.3 1711.67,149.9 1724.61,148.57 1737.54,147.3 1750.48,146.09 1763.41,144.93" fill="none" stroke="#D95319" stroke-width="2" stroke-linejoin="round"/>
<polyline points="1763.41,144.93 1776.35,143.83 1789.28,142.77 1802.22,141.75 1815.15,140.78 1828.09,139.84 1841.02,138.94 1853.96,138.08 1866.89,137.25 1879.83,136.44 1892.76,135.67 1905.7,134.93" fill="none" stroke="#A2142F" stroke-width="2" stroke-linejoin="round"/>
<polyline points="1763.41,144.93 1776.35,156.28 1789.28,154.96 1802.22,153.69 1815.15,152.47 1828.09,151.3 1841.02,150.18 1853.96,149.1 1866.89,148.06 1879.83,147.06 1892.76,146.09 1905.7,145.16" fill="none" stroke="#D95319" stroke-width="2" stroke-linejoin="round"/>
<polyline points="1246.01,94 1258.95,189.5 1271.88,257.71" fill="none" stroke="#D95319" stroke-width="1.1" stroke-linejoin="round" stroke-dasharray="3 2"/>
<polyline points="1181.34,94 1233.08,94 1246.01,208.6 1258.95,189.5 1271.88,175.86 1284.82,165.62 1297.75,157.67 1310.69,151.3 1323.62,146.09 1336.56,141.75 1349.49,138.08 1362.43,134.93 1375.36,132.2 1388.3,129.81 1401.23,127.71 1414.17,125.83 1427.1,154.32 1440.04,151.3 1452.97,148.57 1465.91,146.09 1478.84,143.83 1491.78,141.75 1504.71,139.84 1517.64,138.08 1530.58,136.44 1543.52,134.93 1556.45,133.52 1569.39,132.2 1582.32,130.97 1595.26,129.81 1608.19,128.73 1621.12,127.71 1634.06,126.74 1647,125.83 1659.93,124.97 1672.87,139.24 1685.8,138.08 1698.74,136.97 1711.67,135.93 1724.61,134.93 1737.54,133.98 1750.48,133.07 1763.41,132.2 1776.35,131.37 1789.28,130.57 1802.22,129.81 1815.15,129.08 1828.09,128.38 1841.02,127.71 1853.96,127.06 1866.89,126.43 1879.83,125.83 1892.76,125.25 1905.7,124.7" fill="none" stroke="#EDB120" stroke-width="2" stroke-linejoin="round"/>
<polyline points="1440.04,151.3 1452.97,175.86" fill="none" stroke="#EDB120" stroke-width="1.1" stroke-linejoin="round"/>
<polyline points="1853.96,138.08 1866.89,148.06" fill="none" stroke="#EDB120" stroke-width="1.1" stroke-linejoin="round"/>
<polyline points="1866.89,126.43 1879.83,136.44" fill="none" stroke="#77AC30" stroke-width="2" stroke-linejoin="round"/>
</g>
<line x1="96.1" y1="1795.1" x2="1984.8" y2="1795.1" stroke="#d6d6d6" stroke-width="1.6"/>
<line x1="96.1" y1="1785.04" x2="1984.8" y2="1785.04" stroke="#d6d6d6" stroke-width="1.6"/>
<line x1="96.1" y1="1774.97" x2="1984.8" y2="1774.97" stroke="#d6d6d6" stroke-width="1.6"/>
<line x1="96.1" y1="1764.91" x2="1984.8" y2="1764.91" stroke="#d0d0d0" stroke-width="1.6" stroke-dasharray="2.5 2"/>
<line x1="96.1" y1="1754.84" x2="1984.8" y2="1754.84" stroke="#d0d0d0" stroke-width="1.6" stroke-dasharray="2.5 2"/>
<line x1="96.1" y1="1744.78" x2="1984.8" y2="1744.78" stroke="#d6d6d6" stroke-width="1.6"/>
<line x1="96.1" y1="1734.72" x2="1984.8" y2="1734.72" stroke="#d6d6d6" stroke-width="1.6"/>
<line x1="96.1" y1="1724.65" x2="1984.8" y2="1724.65" stroke="#d6d6d6" stroke-width="1.6"/>
<line x1="96.1" y1="1714.59" x2="1984.8" y2="1714.59" stroke="#d0d0d0" stroke-width="1.6" stroke-dasharray="2.5 2"/>
<line x1="96.1" y1="1704.52" x2="1984.8" y2="1704.52" stroke="#d0d0d0" stroke-width="1.6" stroke-dasharray="2.5 2"/>
<line x1="96.1" y1="1694.46" x2="1984.8" y2="1694.46" stroke="#d6d6d6" stroke-width="1.6"/>
<line x1="96.1" y1="1684.4" x2="1984.8" y2="1684.4" stroke="#d6d6d6" stroke-width="1.6"/>
<line x1="96.1" y1="1674.33" x2="1984.8" y2="1674.33" stroke="#d6d6d6" stroke-width="1.6"/>
<line x1="96.1" y1="1664.27" x2="1984.8" y2="1664.27" stroke="#d0d0d0" stroke-width="1.6" stroke-dasharray="2.5 2"/>
<line x1="96.1" y1="1654.2" x2="1984.8" y2="1654.2" stroke="#d0d0d0" stroke-width="1.6" stroke-dasharray="2.5 2"/>
<line x1="96.1" y1="1644.14" x2="1984.8" y2="1644.14" stroke="#d6d6d6" stroke-width="1.6"/>
<line x1="96.1" y1="1634.08" x2="1984.8" y2="1634.08" stroke="#d6d6d6" stroke-width="1.6"/>
<line x1="96.1" y1="1624.01" x2="1984.8" y2="1624.01" stroke="#d6d6d6" stroke-width="1.6"/>
<line x1="96.1" y1="1613.95" x2="1984.8" y2="1613.95" stroke="#d6d6d6" stroke-width="1.6"/>
<line x1="96.1" y1="1603.88" x2="1984.8" y2="1603.88" stroke="#d0d0d0" stroke-width="1.6" stroke-dasharray="2.5 2"/>
<line x1="96.1" y1="1593.82" x2="1984.8" y2="1593.82" stroke="#d0d0d0" stroke-width="1.6" stroke-dasharray="2.5 2"/>
<line x1="96.1" y1="1583.76" x2="1984.8" y2="1583.76" stroke="#d6d6d6" stroke-width="1.6"/>
<line x1="96.1" y1="1573.69" x2="1984.8" y2="1573.69" stroke="#d6d6d6" stroke-width="1.6"/>
<line x1="96.1" y1="1563.63" x2="1984.8" y2="1563.63" stroke="#d6d6d6" stroke-width="1.6"/>
<line x1="96.1" y1="1553.56" x2="1984.8" y2="1553.56" stroke="#d0d0d0" stroke-width="1.6" stroke-dasharray="2.5 2"/>
<line x1="96.1" y1="1543.5" x2="1984.8" y2="1543.5" stroke="#d0d0d0" stroke-width="1.6" stroke-dasharray="2.5 2"/>
<line x1="96.1" y1="1533.44" x2="1984.8" y2="1533.44" stroke="#d6d6d6" stroke-width="1.6"/>
<line x1="96.1" y1="1523.37" x2="1984.8" y2="1523.37" stroke="#d6d6d6" stroke-width="1.6"/>
<line x1="96.1" y1="1513.31" x2="1984.8" y2="1513.31" stroke="#d6d6d6" stroke-width="1.6"/>
<line x1="96.1" y1="1503.24" x2="1984.8" y2="1503.24" stroke="#d6d6d6" stroke-width="1.6"/>
<line x1="96.1" y1="1493.18" x2="1984.8" y2="1493.18" stroke="#d0d0d0" stroke-width="1.6" stroke-dasharray="2.5 2"/>
<line x1="96.1" y1="1483.12" x2="1984.8" y2="1483.12" stroke="#d0d0d0" stroke-width="1.6" stroke-dasharray="2.5 2"/>
<line x1="96.1" y1="1473.05" x2="1984.8" y2="1473.05" stroke="#d6d6d6" stroke-width="1.6"/>
<line x1="96.1" y1="1462.99" x2="1984.8" y2="1462.99" stroke="#d6d6d6" stroke-width="1.6"/>
<line x1="96.1" y1="1452.92" x2="1984.8" y2="1452.92" stroke="#d6d6d6" stroke-width="1.6"/>
<line x1="96.1" y1="1442.86" x2="1984.8" y2="1442.86" stroke="#d6d6d6" stroke-width="1.6"/>
<line x1="96.1" y1="1432.8" x2="1984.8" y2="1432.8" stroke="#d0d0d0" stroke-width="1.6" stroke-dasharray="2.5 2"/>
<line x1="96.1" y1="1422.73" x2="1984.8" y2="1422.73" stroke="#d0d0d0" stroke-width="1.6" stroke-dasharray="2.5 2"/>
<line x1="96.1" y1="1412.67" x2="1984.8" y2="1412.67" stroke="#d6d6d6" stroke-width="1.6"/>
<line x1="96.1" y1="1402.6" x2="1984.8" y2="1402.6" stroke="#d6d6d6" stroke-width="1.6"/>
<line x1="96.1" y1="1392.54" x2="1984.8" y2="1392.54" stroke="#d6d6d6" stroke-width="1.6"/>
<line x1="96.1" y1="1382.48" x2="1984.8" y2="1382.48" stroke="#d0d0d0" stroke-width="1.6" stroke-dasharray="2.5 2"/>
<line x1="96.1" y1="1372.41" x2="1984.8" y2="1372.41" stroke="#d0d0d0" stroke-width="1.6" stroke-dasharray="2.5 2"/>
<line x1="96.1" y1="1362.35" x2="1984.8" y2="1362.35" stroke="#d0d0d0" stroke-width="1.6" stroke-dasharray="2.5 2"/>
<line x1="96.1" y1="1352.28" x2="1984.8" y2="1352.28" stroke="#d6d6d6" stroke-width="1.6"/>
<line x1="96.1" y1="1342.22" x2="1984.8" y2="1342.22" stroke="#d6d6d6" stroke-width="1.6"/>
<line x1="96.1" y1="1332.16" x2="1984.8" y2="1332.16" stroke="#d0d0d0" stroke-width="1.6" stroke-dasharray="2.5 2"/>
<line x1="96.1" y1="1322.09" x2="1984.8" y2="1322.09" stroke="#d0d0d0" stroke-width="1.6" stroke-dasharray="2.5 2"/>
<line x1="96.1" y1="1312.03" x2="1984.8" y2="1312.03" stroke="#d0d0d0" stroke-width="1.6" stroke-dasharray="2.5 2"/>
<line x1="96.1" y1="1301.96" x2="1984.8" y2="1301.96" stroke="#d6d6d6" stroke-width="1.6"/>
<line x1="96.1" y1="1291.9" x2="1984.8" y2="1291.9" stroke="#d6d6d6" stroke-width="1.6"/>
<line x1="96.1" y1="1281.84" x2="1984.8" y2="1281.84" stroke="#d6d6d6" stroke-width="1.6"/>
<line x1="96.1" y1="1271.77" x2="1984.8" y2="1271.77" stroke="#d0d0d0" stroke-width="1.6" stroke-dasharray="2.5 2"/>
<line x1="96.1" y1="1261.71" x2="1984.8" y2="1261.71" stroke="#d0d0d0" stroke-width="1.6" stroke-dasharray="2.5 2"/>
<line x1="96.1" y1="1251.64" x2="1984.8" y2="1251.64" stroke="#d6d6d6" stroke-width="1.6"/>
<line x1="96.1" y1="1241.58" x2="1984.8" y2="1241.58" stroke="#d6d6d6" stroke-width="1.6"/>
<line x1="96.1" y1="1231.52" x2="1984.8" y2="1231.52" stroke="#d6d6d6" stroke-width="1.6"/>
<line x1="96.1" y1="1221.45" x2="1984.8" y2="1221.45" stroke="#d6d6d6" stroke-width="1.6"/>
<line x1="96.1" y1="1211.39" x2="1984.8" y2="1211.39" stroke="#d0d0d0" stroke-width="1.6" stroke-dasharray="2.5 2"/>
<line x1="96.1" y1="1201.32" x2="1984.8" y2="1201.32" stroke="#d6d6d6" stroke-width="1.6"/>
<line x1="96.1" y1="1191.26" x2="1984.8" y2="1191.26" stroke="#d6d6d6" stroke-width="1.6"/>
<line x1="96.1" y1="1181.2" x2="1984.8" y2="1181.2" stroke="#d6d6d6" stroke-width="1.6"/>
<line x1="96.1" y1="1171.13" x2="1984.8" y2="1171.13" stroke="#d6d6d6" stroke-width="1.6"/>
<line x1="96.1" y1="1161.07" x2="1984.8" y2="1161.07" stroke="#d0d0d0" stroke-width="1.6" stroke-dasharray="2.5 2"/>
<line x1="96.1" y1="1151" x2="1984.8" y2="1151" stroke="#d0d0d0" stroke-width="1.6" stroke-dasharray="2.5 2"/>
<line x1="96.1" y1="1140.94" x2="1984.8" y2="1140.94" stroke="#d6d6d6" stroke-width="1.6"/>
<line x1="96.1" y1="1130.88" x2="1984.8" y2="1130.88" stroke="#d6d6d6" stroke-width="1.6"/>
<line x1="96.1" y1="1120.81" x2="1984.8" y2="1120.81" stroke="#d6d6d6" stroke-width="1.6"/>
<line x1="96.1" y1="1110.75" x2="1984.8" y2="1110.75" stroke="#d6d6d6" stroke-width="1.6"/>
<line x1="96.1" y1="1100.68" x2="1984.8" y2="1100.68" stroke="#d0d0d0" stroke-width="1.6" stroke-dasharray="2.5 2"/>
<line x1="96.1" y1="1090.62" x2="1984.8" y2="1090.62" stroke="#d6d6d6" stroke-width="1.6"/>
<line x1="96.1" y1="1080.56" x2="1984.8" y2="1080.56" stroke="#d6d6d6" stroke-width="1.6"/>
<line x1="96.1" y1="1070.49" x2="1984.8" y2="1070.49" stroke="#d6d6d6" stroke-width="1.6"/>
<line x1="96.1" y1="1060.43" x2="1984.8" y2="1060.43" stroke="#d6d6d6" stroke-width="1.6"/>
<line x1="96.1" y1="1050.36" x2="1984.8" y2="1050.36" stroke="#d0d0d0" stroke-width="1.6" stroke-dasharray="2.5 2"/>
<line x1="96.1" y1="1040.3" x2="1984.8" y2="1040.3" stroke="#d0d0d0" stroke-width="1.6" stroke-dasharray="2.5 2"/>
<line x1="96.1" y1="1030.24" x2="1984.8" y2="1030.24" stroke="#d6d6d6" stroke-width="1.6"/>
<line x1="96.1" y1="1020.17" x2="1984.8" y2="1020.17" stroke="#d6d6d6" stroke-width="1.6"/>
<line x1="96.1" y1="1010.11" x2="1984.8" y2="1010.11" stroke="#d6d6d6" stroke-width="1.6"/>
<line x1="96.1" y1="1000.04" x2="1984.8" y2="1000.04" stroke="#d0d0d0" stroke-width="1.6" stroke-dasharray="2.5 2"/>
<line x1="96.1" y1="989.98" x2="1984.8" y2="989.98" stroke="#d0d0d0" stroke-width="1.6" stroke-dasharray="2.5 2"/>
<line x1="96.1" y1="979.92" x2="1984.8" y2="979.92" stroke="#d6d6d6" stroke-width="1.6"/>
<line x1="96.1" y1="969.85" x2="1984.8" y2="969.85" stroke="#d6d6d6" stroke-width="1.6"/>
<line x1="96.1" y1="959.79" x2="1984.8" y2="959.79" stroke="#d6d6d6" stroke-width="1.6"/>
<line x1="96.1" y1="949.72" x2="1984.8" y2="949.72" stroke="#d0d0d0" stroke-width="1.6" stroke-dasharray="2.5 2"/>
<line x1="96.1" y1="939.66" x2="1984.8" y2="939.66" stroke="#d0d0d0" stroke-width="1.6" stroke-dasharray="2.5 2"/>
<line x1="96.1" y1="929.6" x2="1984.8" y2="929.6" stroke="#d6d6d6" stroke-width="1.6"/>
<line x1="96.1" y1="919.53" x2="1984.8" y2="919.53" stroke="#d6d6d6" stroke-width="1.6"/>
<line x1="96.1" y1="909.47" x2="1984.8" y2="909.47" stroke="#d6d6d6" stroke-width="1.6"/>
<line x1="96.1" y1="899.4" x2="1984.8" y2="899.4" stroke="#d6d6d6" stroke-width="1.6"/>
<line x1="96.1" y1="889.34" x2="1984.8" y2="889.34" stroke="#d0d0d0" stroke-width="1.6" stroke-dasharray="2.5 2"/>
<line x1="96.1" y1="879.28" x2="1984.8" y2="879.28" stroke="#d0d0d0" stroke-width="1.6" stroke-dasharray="2.5 2"/>
<line x1="96.1" y1="869.21" x2="1984.8" y2="869.21" stroke="#d6d6d6" stroke-width="1.6"/>
<line x1="96.1" y1="859.15" x2="1984.8" y2="859.15" stroke="#d6d6d6" stroke-width="1.6"/>
<line x1="96.1" y1="849.08" x2="1984.8" y2="849.08" stroke="#d6d6d6" stroke-width="1.6"/>
<line x1="96.1" y1="839.02" x2="1984.8" y2="839.02" stroke="#d6d6d6" stroke-width="1.6"/>
<line x1="96.1" y1="828.96" x2="1984.8" y2="828.96" stroke="#d0d0d0" stroke-width="1.6" stroke-dasharray="2.5 2"/>
<line x1="96.1" y1="818.89" x2="1984.8" y2="818.89" stroke="#d0d0d0" stroke-width="1.6" stroke-dasharray="2.5 2"/>
<line x1="96.1" y1="808.83" x2="1984.8" y2="808.83" stroke="#d6d6d6" stroke-width="1.6"/>
<line x1="107.6" y1="800.6" x2="107.6" y2="1806.8" stroke="#b0b0b0" stroke-width="1" stroke-dasharray="2 3"/>
<line x1="76" y1="1795.1" x2="96.1" y2="1795.1" stroke="#1e1e1e" stroke-width="2"/>
<line x1="1984.8" y1="1795.1" x2="2005" y2="1795.1" stroke="#1e1e1e" stroke-width="2"/>
<line x1="76" y1="1785.04" x2="96.1" y2="1785.04" stroke="#1e1e1e" stroke-width="2"/>
<line x1="1984.8" y1="1785.04" x2="2005" y2="1785.04" stroke="#1e1e1e" stroke-width="2"/>
<line x1="76" y1="1774.97" x2="96.1" y2="1774.97" stroke="#1e1e1e" stroke-width="2"/>
<line x1="1984.8" y1="1774.97" x2="2005" y2="1774.97" stroke="#1e1e1e" stroke-width="2"/>
<line x1="76" y1="1764.91" x2="96.1" y2="1764.91" stroke="#1e1e1e" stroke-width="2"/>
<line x1="1984.8" y1="1764.91" x2="2005" y2="1764.91" stroke="#1e1e1e" stroke-width="2"/>
<line x1="76" y1="1754.84" x2="96.1" y2="1754.84" stroke="#777" stroke-width="2"/>
<line x1="1984.8" y1="1754.84" x2="2005" y2="1754.84" stroke="#777" stroke-width="2"/>
<line x1="76" y1="1744.78" x2="96.1" y2="1744.78" stroke="#1e1e1e" stroke-width="2"/>
<line x1="1984.8" y1="1744.78" x2="2005" y2="1744.78" stroke="#1e1e1e" stroke-width="2"/>
<line x1="76" y1="1734.72" x2="96.1" y2="1734.72" stroke="#1e1e1e" stroke-width="2"/>
<line x1="1984.8" y1="1734.72" x2="2005" y2="1734.72" stroke="#1e1e1e" stroke-width="2"/>
<line x1="76" y1="1724.65" x2="96.1" y2="1724.65" stroke="#1e1e1e" stroke-width="2"/>
<line x1="1984.8" y1="1724.65" x2="2005" y2="1724.65" stroke="#1e1e1e" stroke-width="2"/>
<line x1="76" y1="1714.59" x2="96.1" y2="1714.59" stroke="#1e1e1e" stroke-width="2"/>
<line x1="1984.8" y1="1714.59" x2="2005" y2="1714.59" stroke="#1e1e1e" stroke-width="2"/>
<line x1="76" y1="1704.52" x2="96.1" y2="1704.52" stroke="#777" stroke-width="2"/>
<line x1="1984.8" y1="1704.52" x2="2005" y2="1704.52" stroke="#777" stroke-width="2"/>
<line x1="76" y1="1694.46" x2="96.1" y2="1694.46" stroke="#1e1e1e" stroke-width="2"/>
<line x1="1984.8" y1="1694.46" x2="2005" y2="1694.46" stroke="#1e1e1e" stroke-width="2"/>
<line x1="76" y1="1684.4" x2="96.1" y2="1684.4" stroke="#1e1e1e" stroke-width="2"/>
<line x1="1984.8" y1="1684.4" x2="2005" y2="1684.4" stroke="#1e1e1e" stroke-width="2"/>
<line x1="76" y1="1674.33" x2="96.1" y2="1674.33" stroke="#1e1e1e" stroke-width="2"/>
<line x1="1984.8" y1="1674.33" x2="2005" y2="1674.33" stroke="#1e1e1e" stroke-width="2"/>
<line x1="76" y1="1664.27" x2="96.1" y2="1664.27" stroke="#1e1e1e" stroke-width="2"/>
<line x1="1984.8" y1="1664.27" x2="2005" y2="1664.27" stroke="#1e1e1e" stroke-width="2"/>
<line x1="76" y1="1654.2" x2="96.1" y2="1654.2" stroke="#1e1e1e" stroke-width="2"/>
<line x1="1984.8" y1="1654.2" x2="2005" y2="1654.2" stroke="#1e1e1e" stroke-width="2"/>
<line x1="76" y1="1644.14" x2="96.1" y2="1644.14" stroke="#777" stroke-width="2"/>
<line x1="1984.8" y1="1644.14" x2="2005" y2="1644.14" stroke="#777" stroke-width="2"/>
<line x1="76" y1="1634.08" x2="96.1" y2="1634.08" stroke="#1e1e1e" stroke-width="2"/>
<line x1="1984.8" y1="1634.08" x2="2005" y2="1634.08" stroke="#1e1e1e" stroke-width="2"/>
<line x1="76" y1="1624.01" x2="96.1" y2="1624.01" stroke="#1e1e1e" stroke-width="2"/>
<line x1="1984.8" y1="1624.01" x2="2005" y2="1624.01" stroke="#1e1e1e" stroke-width="2"/>
<line x1="76" y1="1613.95" x2="96.1" y2="1613.95" stroke="#1e1e1e" stroke-width="2"/>
<line x1="1984.8" y1="1613.95" x2="2005" y2="1613.95" stroke="#1e1e1e" stroke-width="2"/>
<line x1="76" y1="1603.88" x2="96.1" y2="1603.88" stroke="#1e1e1e" stroke-width="2"/>
<line x1="1984.8" y1="1603.88" x2="2005" y2="1603.88" stroke="#1e1e1e" stroke-width="2"/>
<line x1="76" y1="1593.82" x2="96.1" y2="1593.82" stroke="#777" stroke-width="2"/>
<line x1="1984.8" y1="1593.82" x2="2005" y2="1593.82" stroke="#777" stroke-width="2"/>
<line x1="76" y1="1583.76" x2="96.1" y2="1583.76" stroke="#1e1e1e" stroke-width="2"/>
<line x1="1984.8" y1="1583.76" x2="2005" y2="1583.76" stroke="#1e1e1e" stroke-width="2"/>
<line x1="76" y1="1573.69" x2="96.1" y2="1573.69" stroke="#1e1e1e" stroke-width="2"/>
<line x1="1984.8" y1="1573.69" x2="2005" y2="1573.69" stroke="#1e1e1e" stroke-width="2"/>
<line x1="76" y1="1563.63" x2="96.1" y2="1563.63" stroke="#1e1e1e" stroke-width="2"/>
<line x1="1984.8" y1="1563.63" x2="2005" y2="1563.63" stroke="#1e1e1e" stroke-width="2"/>
<line x1="76" y1="1553.56" x2="96.1" y2="1553.56" stroke="#1e1e1e" stroke-width="2"/>
<line x1="1984.8" y1="1553.56" x2="2005" y2="1553.56" stroke="#1e1e1e" stroke-width="2"/>
<line x1="76" y1="1543.5" x2="96.1" y2="1543.5" stroke="#1e1e1e" stroke-width="2"/>
<line x1="1984.8" y1="1543.5" x2="2005" y2="1543.5" stroke="#1e1e1e" stroke-width="2"/>
<line x1="76" y1="1533.44" x2="96.1" y2="1533.44" stroke="#777" stroke-width="2"/>
<line x1="1984.8" y1="1533.44" x2="2005" y2="1533.44" stroke="#777" stroke-width="2"/>
<line x1="76" y1="1523.37" x2="96.1" y2="1523.37" stroke="#1e1e1e" stroke-width="2"/>
<line x1="1984.8" y1="1523.37" x2="2005" y2="1523.37" stroke="#1e1e1e" stroke-width="2"/>
<line x1="76" y1="1513.31" x2="96.1" y2="1513.31" stroke="#1e1e1e" stroke-width="2"/>
<line x1="1984.8" y1="1513.31" x2="2005" y2="1513.31" stroke="#1e1e1e" stroke-width="2"/>
<line x1="76" y1="1503.24" x2="96.1" y2="1503.24" stroke="#1e1e1e" stroke-width="2"/>
<line x1="1984.8" y1="1503.24" x2="2005" y2="1503.24" stroke="#1e1e1e" stroke-width="2"/>
<line x1="76" y1="1493.18" x2="96.1" y2="1493.18" stroke="#1e1e1e" stroke-width="2"/>
<line x1="1984.8" y1="1493.18" x2="2005" y2="1493.18" stroke="#1e1e1e" stroke-width="2"/>
<line x1="76" y1="1483.12" x2="96.1" y2="1483.12" stroke="#777" stroke-width="2"/>
<line x1="1984.8" y1="1483.12" x2="2005" y2="1483.12" stroke="#777" stroke-width="2"/>
<line x1="76" y1="1473.05" x2="96.1" y2="1473.05" stroke="#1e1e1e" stroke-width="2"/>
<line x1="1984.8" y1="1473.05" x2="2005" y2="1473.05" stroke="#1e1e1e" stroke-width="2"/>
<line x1="76" y1="1462.99" x2="96.1" y2="1462.99" stroke="#1e1e1e" stroke-width="2"/>
<line x1="1984.8" y1="1462.99" x2="2005" y2="1462.99" stroke="#1e1e1e" stroke-width="2"/>
<line x1="76" y1="1452.92" x2="96.1" y2="1452.92" stroke="#1e1e1e" stroke-width="2"/>
<line x1="1984.8" y1="1452.92" x2="2005" y2="1452.92" stroke="#1e1e1e" stroke-width="2"/>
<line x1="76" y1="1442.86" x2="96.1" y2="1442.86" stroke="#1e1e1e" stroke-width="2"/>
<line x1="1984.8" y1="1442.86" x2="2005" y2="1442.86" stroke="#1e1e1e" stroke-width="2"/>
<line x1="76" y1="1432.8" x2="96.1" y2="1432.8" stroke="#1e1e1e" stroke-width="2"/>
<line x1="1984.8" y1="1432.8" x2="2005" y2="1432.8" stroke="#1e1e1e" stroke-width="2"/>
<line x1="76" y1="1422.73" x2="96.1" y2="1422.73" stroke="#777" stroke-width="2"/>
<line x1="1984.8" y1="1422.73" x2="2005" y2="1422.73" stroke="#777" stroke-width="2"/>
<line x1="76" y1="1412.67" x2="96.1" y2="1412.67" stroke="#1e1e1e" stroke-width="2"/>
<line x1="1984.8" y1="1412.67" x2="2005" y2="1412.67" stroke="#1e1e1e" stroke-width="2"/>
<line x1="76" y1="1402.6" x2="96.1" y2="1402.6" stroke="#1e1e1e" stroke-width="2"/>
<line x1="1984.8" y1="1402.6" x2="2005" y2="1402.6" stroke="#1e1e1e" stroke-width="2"/>
<line x1="76" y1="1392.54" x2="96.1" y2="1392.54" stroke="#1e1e1e" stroke-width="2"/>
<line x1="1984.8" y1="1392.54" x2="2005" y2="1392.54" stroke="#1e1e1e" stroke-width="2"/>
<line x1="76" y1="1382.48" x2="96.1" y2="1382.48" stroke="#1e1e1e" stroke-width="2"/>
<line x1="1984.8" y1="1382.48" x2="2005" y2="1382.48" stroke="#1e1e1e" stroke-width="2"/>
<line x1="76" y1="1372.41" x2="96.1" y2="1372.41" stroke="#777" stroke-width="2"/>
<line x1="1984.8" y1="1372.41" x2="2005" y2="1372.41" stroke="#777" stroke-width="2"/>
<line x1="76" y1="1362.35" x2="96.1" y2="1362.35" stroke="#1e1e1e" stroke-width="2"/>
<line x1="1984.8" y1="1362.35" x2="2005" y2="1362.35" stroke="#1e1e1e" stroke-width="2"/>
<line x1="76" y1="1352.28" x2="96.1" y2="1352.28" stroke="#1e1e1e" stroke-width="2"/>
<line x1="1984.8" y1="1352.28" x2="2005" y2="1352.28" stroke="#1e1e1e" stroke-width="2"/>
<line x1="76" y1="1342.22" x2="96.1" y2="1342.22" stroke="#1e1e1e" stroke-width="2"/>
<line x1="1984.8" y1="1342.22" x2="2005" y2="1342.22" stroke="#1e1e1e" stroke-width="2"/>
<line x1="76" y1="1332.16" x2="96.1" y2="1332.16" stroke="#1e1e1e" stroke-width="2"/>
<line x1="1984.8" y1="1332.16" x2="2005" y2="1332.16" stroke="#1e1e1e" stroke-width="2"/>
<line x1="76" y1="1322.09" x2="96.1" y2="1322.09" stroke="#777" stroke-width="2"/>
<line x1="1984.8" y1="1322.09" x2="2005" y2="1322.09" stroke="#777" stroke-width="2"/>
<line x1="76" y1="1312.03" x2="96.1" y2="1312.03" stroke="#1e1e1e" stroke-width="2"/>
<line x1="1984.8" y1="1312.03" x2="2005" y2="1312.03" stroke="#1e1e1e" stroke-width="2"/>
<line x1="76" y1="1301.96" x2="96.1" y2="1301.96" stroke="#1e1e1e" stroke-width="2"/>
<line x1="1984.8" y1="1301.96" x2="2005" y2="1301.96" stroke="#1e1e1e" stroke-width="2"/>
<line x1="76" y1="1291.9" x2="96.1" y2="1291.9" stroke="#1e1e1e" stroke-width="2"/>
<line x1="1984.8" y1="1291.9" x2="2005" y2="1291.9" stroke="#1e1e1e" stroke-width="2"/>
<line x1="76" y1="1281.84" x2="96.1" y2="1281.84" stroke="#1e1e1e" stroke-width="2"/>
<line x1="1984.8" y1="1281.84" x2="2005" y2="1281.84" stroke="#1e1e1e" stroke-width="2"/>
<line x1="76" y1="1271.77" x2="96.1" y2="1271.77" stroke="#1e1e1e" stroke-width="2"/>
<line x1="1984.8" y1="1271.77" x2="2005" y2="1271.77" stroke="#1e1e1e" stroke-width="2"/>
<line x1="76" y1="1261.71" x2="96.1" y2="1261.71" stroke="#777" stroke-width="2"/>
<line x1="1984.8" y1="1261.71" x2="2005" y2="1261.71" stroke="#777" stroke-width="2"/>
<line x1="76" y1="1251.64" x2="96.1" y2="1251.64" stroke="#1e1e1e" stroke-width="2"/>
<line x1="1984.8" y1="1251.64" x2="2005" y2="1251.64" stroke="#1e1e1e" stroke-width="2"/>
<line x1="76" y1="1241.58" x2="96.1" y2="1241.58" stroke="#1e1e1e" stroke-width="2"/>
<line x1="1984.8" y1="1241.58" x2="2005" y2="1241.58" stroke="#1e1e1e" stroke-width="2"/>
<line x1="76" y1="1231.52" x2="96.1" y2="1231.52" stroke="#1e1e1e" stroke-width="2"/>
<line x1="1984.8" y1="1231.52" x2="2005" y2="1231.52" stroke="#1e1e1e" stroke-width="2"/>
<line x1="76" y1="1221.45" x2="96.1" y2="1221.45" stroke="#1e1e1e" stroke-width="2"/>
<line x1="1984.8" y1="1221.45" x2="2005" y2="1221.45" stroke="#1e1e1e" stroke-width="2"/>
<line x1="76" y1="1211.39" x2="96.1" y2="1211.39" stroke="#777" stroke-width="2"/>
<line x1="1984.8" y1="1211.39" x2="2005" y2="1211.39" stroke="#777" stroke-width="2"/>
<line x1="76" y1="1201.32" x2="96.1" y2="1201.32" stroke="#1e1e1e" stroke-width="2"/>
<line x1="1984.8" y1="1201.32" x2="2005" y2="1201.32" stroke="#1e1e1e" stroke-width="2"/>
<line x1="76" y1="1191.26" x2="96.1" y2="1191.26" stroke="#1e1e1e" stroke-width="2"/>
<line x1="1984.8" y1="1191.26" x2="2005" y2="1191.26" stroke="#1e1e1e" stroke-width="2"/>
<line x1="76" y1="1181.2" x2="96.1" y2="1181.2" stroke="#1e1e1e" stroke-width="2"/>
<line x1="1984.8" y1="1181.2" x2="2005" y2="1181.2" stroke="#1e1e1e" stroke-width="2"/>
<line x1="76" y1="1171.13" x2="96.1" y2="1171.13" stroke="#1e1e1e" stroke-width="2"/>
<line x1="1984.8" y1="1171.13" x2="2005" y2="1171.13" stroke="#1e1e1e" stroke-width="2"/>
<line x1="76" y1="1161.07" x2="96.1" y2="1161.07" stroke="#1e1e1e" stroke-width="2"/>
<line x1="1984.8" y1="1161.07" x2="2005" y2="1161.07" stroke="#1e1e1e" stroke-width="2"/>
<line x1="76" y1="1151" x2="96.1" y2="1151" stroke="#777" stroke-width="2"/>
<line x1="1984.8" y1="1151" x2="2005" y2="1151" stroke="#777" stroke-width="2"/>
<line x1="76" y1="1140.94" x2="96.1" y2="1140.94" stroke="#1e1e1e" stroke-width="2"/>
<line x1="1984.8" y1="1140.94" x2="2005" y2="1140.94" stroke="#1e1e1e" stroke-width="2"/>
<line x1="76" y1="1130.88" x2="96.1" y2="1130.88" stroke="#1e1e1e" stroke-width="2"/>
<line x1="1984.8" y1="1130.88" x2="2005" y2="1130.88" stroke="#1e1e1e" stroke-width="2"/>
<line x1="76" y1="1120.81" x2="96.1" y2="1120.81" stroke="#1e1e1e" stroke-width="2"/>
<line x1="1984.8" y1="1120.81" x2="2005" y2="1120.81" stroke="#1e1e1e" stroke-width="2"/>
<line x1="76" y1="1110.75" x2="96.1" y2="1110.75" stroke="#1e1e1e" stroke-width="2"/>
<line x1="1984.8" y1="1110.75" x2="2005" y2="1110.75" stroke="#1e1e1e" stroke-width="2"/>
<line x1="76" y1="1100.68" x2="96.1" y2="1100.68" stroke="#777" stroke-width="2"/>
<line x1="1984.8" y1="1100.68" x2="2005" y2="1100.68" stroke="#777" stroke-width="2"/>
<line x1="76" y1="1090.62" x2="96.1" y2="1090.62" stroke="#1e1e1e" stroke-width="2"/>
<line x1="1984.8" y1="1090.62" x2="2005" y2="1090.62" stroke="#1e1e1e" stroke-width="2"/>
<line x1="76" y1="1080.56" x2="96.1" y2="1080.56" stroke="#1e1e1e" stroke-width="2"/>
<line x1="1984.8" y1="1080.56" x2="2005" y2="1080.56" stroke="#1e1e1e" stroke-width="2"/>
<line x1="76" y1="1070.49" x2="96.1" y2="1070.49" stroke="#1e1e1e" stroke-width="2"/>
<line x1="1984.8" y1="1070.49" x2="2005" y2="1070.49" stroke="#1e1e1e" stroke-width="2"/>
<line x1="76" y1="1060.43" x2="96.1" y2="1060.43" stroke="#1e1e1e" stroke-width="2"/>
<line x1="1984.8" y1="1060.43" x2="2005" y2="1060.43" stroke="#1e1e1e" stroke-width="2"/>
<line x1="76" y1="1050.36" x2="96.1" y2="1050.36" stroke="#1e1e1e" stroke-width="2"/>
<line x1="1984.8" y1="1050.36" x2="2005" y2="1050.36" stroke="#1e1e1e" stroke-width="2"/>
<line x1="76" y1="1040.3" x2="96.1" y2="1040.3" stroke="#777" stroke-width="2"/>
<line x1="1984.8" y1="1040.3" x2="2005" y2="1040.3" stroke="#777" stroke-width="2"/>
<line x1="76" y1="1030.24" x2="96.1" y2="1030.24" stroke="#1e1e1e" stroke-width="2"/>
<line x1="1984.8" y1="1030.24" x2="2005" y2="1030.24" stroke="#1e1e1e" stroke-width="2"/>
<line x1="76" y1="1020.17" x2="96.1" y2="1020.17" stroke="#1e1e1e" stroke-width="2"/>
<line x1="1984.8" y1="1020.17" x2="2005" y2="1020.17" stroke="#1e1e1e" stroke-width="2"/>
<line x1="76" y1="1010.11" x2="96.1" y2="1010.11" stroke="#1e1e1e" stroke-width="2"/>
<line x1="1984.8" y1="1010.11" x2="2005" y2="1010.11" stroke="#1e1e1e" stroke-width="2"/>
<line x1="76" y1="1000.04" x2="96.1" y2="1000.04" stroke="#1e1e1e" stroke-width="2"/>
<line x1="1984.8" y1="1000.04" x2="2005" y2="1000.04" stroke="#1e1e1e" stroke-width="2"/>
<line x1="76" y1="989.98" x2="96.1" y2="989.98" stroke="#777" stroke-width="2"/>
<line x1="1984.8" y1="989.98" x2="2005" y2="989.98" stroke="#777" stroke-width="2"/>
<line x1="76" y1="979.92" x2="96.1" y2="979.92" stroke="#1e1e1e" stroke-width="2"/>
<line x1="1984.8" y1="979.92" x2="2005" y2="979.92" stroke="#1e1e1e" stroke-width="2"/>
<line x1="76" y1="969.85" x2="96.1" y2="969.85" stroke="#1e1e1e" stroke-width="2"/>
<line x1="1984.8" y1="969.85" x2="2005" y2="969.85" stroke="#1e1e1e" stroke-width="2"/>
<line x1="76" y1="959.79" x2="96.1" y2="959.79" stroke="#1e1e1e" stroke-width="2"/>
<line x1="1984.8" y1="959.79" x2="2005" y2="959.79" stroke="#1e1e1e" stroke-width="2"/>
<line x1="76" y1="949.72" x2="96.1" y2="949.72" stroke="#1e1e1e" stroke-width="2"/>
<line x1="1984.8" y1="949.72" x2="2005" y2="949.72" stroke="#1e1e1e" stroke-width="2"/>
<line x1="76" y1="939.66" x2="96.1" y2="939.66" stroke="#1e1e1e" stroke-width="2"/>
<line x1="1984.8" y1="939.66" x2="2005" y2="939.66" stroke="#1e1e1e" stroke-width="2"/>
<line x1="76" y1="929.6" x2="96.1" y2="929.6" stroke="#777" stroke-width="2"/>
<line x1="1984.8" y1="929.6" x2="2005" y2="929.6" stroke="#777" stroke-width="2"/>
<line x1="76" y1="919.53" x2="96.1" y2="919.53" stroke="#1e1e1e" stroke-width="2"/>
<line x1="1984.8" y1="919.53" x2="2005" y2="919.53" stroke="#1e1e1e" stroke-width="2"/>
<line x1="76" y1="909.47" x2="96.1" y2="909.47" stroke="#1e1e1e" stroke-width="2"/>
<line x1="1984.8" y1="909.47" x2="2005" y2="909.47" stroke="#1e1e1e" stroke-width="2"/>
<line x1="76" y1="899.4" x2="96.1" y2="899.4" stroke="#1e1e1e" stroke-width="2"/>
<line x1="1984.8" y1="899.4" x2="2005" y2="899.4" stroke="#1e1e1e" stroke-width="2"/>
<line x1="76" y1="889.34" x2="96.1" y2="889.34" stroke="#1e1e1e" stroke-width="2"/>
<line x1="1984.8" y1="889.34" x2="2005" y2="889.34" stroke="#1e1e1e" stroke-width="2"/>
<line x1="76" y1="879.28" x2="96.1" y2="879.28" stroke="#777" stroke-width="2"/>
<line x1="1984.8" y1="879.28" x2="2005" y2="879.28" stroke="#777" stroke-width="2"/>
<line x1="76" y1="869.21" x2="96.1" y2="869.21" stroke="#1e1e1e" stroke-width="2"/>
<line x1="1984.8" y1="869.21" x2="2005" y2="869.21" stroke="#1e1e1e" stroke-width="2"/>
<line x1="76" y1="859.15" x2="96.1" y2="859.15" stroke="#1e1e1e" stroke-width="2"/>
<line x1="1984.8" y1="859.15" x2="2005" y2="859.15" stroke="#1e1e1e" stroke-width="2"/>
<line x1="76" y1="849.08" x2="96.1" y2="849.08" stroke="#1e1e1e" stroke-width="2"/>
<line x1="1984.8" y1="849.08" x2="2005" y2="849.08" stroke="#1e1e1e" stroke-width="2"/>
<line x1="76" y1="839.02" x2="96.1" y2="839.02" stroke="#1e1e1e" stroke-width="2"/>
<line x1="1984.8" y1="839.02" x2="2005" y2="839.02" stroke="#1e1e1e" stroke-width="2"/>
<line x1="76" y1="828.96" x2="96.1" y2="828.96" stroke="#1e1e1e" stroke-width="2"/>
<line x1="1984.8" y1="828.96" x2="2005" y2="828.96" stroke="#1e1e1e" stroke-width="2"/>
<line x1="76" y1="818.89" x2="96.1" y2="818.89" stroke="#1e1e1e" stroke-width="2"/>
<line x1="1984.8" y1="818.89" x2="2005" y2="818.89" stroke="#1e1e1e" stroke-width="2"/>
<line x1="76" y1="808.83" x2="96.1" y2="808.83" stroke="#1e1e1e" stroke-width="2"/>
<line x1="1984.8" y1="808.83" x2="2005" y2="808.83" stroke="#1e1e1e" stroke-width="2"/>
<line x1="96.1" y1="800.6" x2="1984.8" y2="800.6" stroke="#333" stroke-width="2"/>
<line x1="96.1" y1="799.6" x2="96.1" y2="1806.8" stroke="#333" stroke-width="2"/>
<line x1="1984.8" y1="799.6" x2="1984.8" y2="1806.8" stroke="#222" stroke-width="2"/>
<line x1="95.1" y1="1807.2" x2="1985.8" y2="1807.2" stroke="#a3a3a3" stroke-width="2.8"/>
<line x1="107.6" y1="800.6" x2="107.6" y2="782" stroke="#333" stroke-width="1.6"/>
<line x1="107.6" y1="1806.8" x2="107.6" y2="1826" stroke="#333" stroke-width="1.6"/>
<text transform="translate(65.5 1803.9) scale(1.03 1)" font-size="24.3" text-anchor="end" fill="#000">1</text>
<text transform="translate(65.5 1793.84) scale(1.03 1)" font-size="24.3" text-anchor="end" fill="#000">2</text>
<text transform="translate(65.5 1783.77) scale(1.03 1)" font-size="24.3" text-anchor="end" fill="#000">3</text>
<text transform="translate(65.5 1773.71) scale(1.03 1)" font-size="24.3" text-anchor="end" fill="#000">4</text>
<text transform="translate(65.5 1763.64) scale(1.03 1)" font-size="24.3" text-anchor="end" fill="#000">5</text>
<text transform="translate(65.5 1753.58) scale(1.03 1)" font-size="24.3" text-anchor="end" fill="#000">6</text>
<text transform="translate(65.5 1743.52) scale(1.03 1)" font-size="24.3" text-anchor="end" fill="#000">7</text>
<text transform="translate(65.5 1733.45) scale(1.03 1)" font-size="24.3" text-anchor="end" fill="#000">8</text>
<text transform="translate(65.5 1723.39) scale(1.03 1)" font-size="24.3" text-anchor="end" fill="#000">9</text>
<text transform="translate(65.5 1713.32) scale(1.03 1)" font-size="24.3" text-anchor="end" fill="#000">10</text>
<text transform="translate(65.5 1703.26) scale(1.03 1)" font-size="24.3" text-anchor="end" fill="#000">11</text>
<text transform="translate(65.5 1693.2) scale(1.03 1)" font-size="24.3" text-anchor="end" fill="#000">12</text>
<text transform="translate(65.5 1683.13) scale(1.03 1)" font-size="24.3" text-anchor="end" fill="#000">13</text>
<text transform="translate(65.5 1673.07) scale(1.03 1)" font-size="24.3" text-anchor="end" fill="#000">14</text>
<text transform="translate(65.5 1663) scale(1.03 1)" font-size="24.3" text-anchor="end" fill="#000">15</text>
<text transform="translate(65.5 1652.94) scale(1.03 1)" font-size="24.3" text-anchor="end" fill="#000">16</text>
<text transform="translate(65.5 1642.88) scale(1.03 1)" font-size="24.3" text-anchor="end" fill="#000">17</text>
<text transform="translate(65.5 1632.81) scale(1.03 1)" font-size="24.3" text-anchor="end" fill="#000">18</text>
<text transform="translate(65.5 1622.75) scale(1.03 1)" font-size="24.3" text-anchor="end" fill="#000">19</text>
<text transform="translate(65.5 1612.68) scale(1.03 1)" font-size="24.3" text-anchor="end" fill="#000">20</text>
<text transform="translate(65.5 1602.62) scale(1.03 1)" font-size="24.3" text-anchor="end" fill="#000">21</text>
<text transform="translate(65.5 1592.56) scale(1.03 1)" font-size="24.3" text-anchor="end" fill="#000">22</text>
<text transform="translate(65.5 1582.49) scale(1.03 1)" font-size="24.3" text-anchor="end" fill="#000">23</text>
<text transform="translate(65.5 1572.43) scale(1.03 1)" font-size="24.3" text-anchor="end" fill="#000">24</text>
<text transform="translate(65.5 1562.36) scale(1.03 1)" font-size="24.3" text-anchor="end" fill="#000">25</text>
<text transform="translate(65.5 1552.3) scale(1.03 1)" font-size="24.3" text-anchor="end" fill="#000">26</text>
<text transform="translate(65.5 1542.24) scale(1.03 1)" font-size="24.3" text-anchor="end" fill="#000">27</text>
<text transform="translate(65.5 1532.17) scale(1.03 1)" font-size="24.3" text-anchor="end" fill="#000">28</text>
<text transform="translate(65.5 1522.11) scale(1.03 1)" font-size="24.3" text-anchor="end" fill="#000">29</text>
<text transform="translate(65.5 1512.04) scale(1.03 1)" font-size="24.3" text-anchor="end" fill="#000">30</text>
<text transform="translate(65.5 1501.98) scale(1.03 1)" font-size="24.3" text-anchor="end" fill="#000">31</text>
<text transform="translate(65.5 1491.92) scale(1.03 1)" font-size="24.3" text-anchor="end" fill="#000">32</text>
<text transform="translate(65.5 1481.85) scale(1.03 1)" font-size="24.3" text-anchor="end" fill="#000">33</text>
<text transform="translate(65.5 1471.79) scale(1.03 1)" font-size="24.3" text-anchor="end" fill="#000">34</text>
<text transform="translate(65.5 1461.72) scale(1.03 1)" font-size="24.3" text-anchor="end" fill="#000">35</text>
<text transform="translate(65.5 1451.66) scale(1.03 1)" font-size="24.3" text-anchor="end" fill="#000">36</text>
<text transform="translate(65.5 1441.6) scale(1.03 1)" font-size="24.3" text-anchor="end" fill="#000">37</text>
<text transform="translate(65.5 1431.53) scale(1.03 1)" font-size="24.3" text-anchor="end" fill="#000">38</text>
<text transform="translate(65.5 1421.47) scale(1.03 1)" font-size="24.3" text-anchor="end" fill="#000">39</text>
<text transform="translate(65.5 1411.4) scale(1.03 1)" font-size="24.3" text-anchor="end" fill="#000">40</text>
<text transform="translate(65.5 1401.34) scale(1.03 1)" font-size="24.3" text-anchor="end" fill="#000">41</text>
<text transform="translate(65.5 1391.28) scale(1.03 1)" font-size="24.3" text-anchor="end" fill="#000">42</text>
<text transform="translate(65.5 1381.21) scale(1.03 1)" font-size="24.3" text-anchor="end" fill="#000">43</text>
<text transform="translate(65.5 1371.15) scale(1.03 1)" font-size="24.3" text-anchor="end" fill="#000">44</text>
<text transform="translate(65.5 1361.08) scale(1.03 1)" font-size="24.3" text-anchor="end" fill="#000">45</text>
<text transform="translate(65.5 1351.02) scale(1.03 1)" font-size="24.3" text-anchor="end" fill="#000">46</text>
<text transform="translate(65.5 1340.96) scale(1.03 1)" font-size="24.3" text-anchor="end" fill="#000">47</text>
<text transform="translate(65.5 1330.89) scale(1.03 1)" font-size="24.3" text-anchor="end" fill="#000">48</text>
<text transform="translate(65.5 1320.83) scale(1.03 1)" font-size="24.3" text-anchor="end" fill="#000">49</text>
<text transform="translate(65.5 1310.76) scale(1.03 1)" font-size="24.3" text-anchor="end" fill="#000">50</text>
<text transform="translate(65.5 1300.7) scale(1.03 1)" font-size="24.3" text-anchor="end" fill="#000">51</text>
<text transform="translate(65.5 1290.64) scale(1.03 1)" font-size="24.3" text-anchor="end" fill="#000">52</text>
<text transform="translate(65.5 1280.57) scale(1.03 1)" font-size="24.3" text-anchor="end" fill="#000">53</text>
<text transform="translate(65.5 1270.51) scale(1.03 1)" font-size="24.3" text-anchor="end" fill="#000">54</text>
<text transform="translate(65.5 1260.44) scale(1.03 1)" font-size="24.3" text-anchor="end" fill="#000">55</text>
<text transform="translate(65.5 1250.38) scale(1.03 1)" font-size="24.3" text-anchor="end" fill="#000">56</text>
<text transform="translate(65.5 1240.32) scale(1.03 1)" font-size="24.3" text-anchor="end" fill="#000">57</text>
<text transform="translate(65.5 1230.25) scale(1.03 1)" font-size="24.3" text-anchor="end" fill="#000">58</text>
<text transform="translate(65.5 1220.19) scale(1.03 1)" font-size="24.3" text-anchor="end" fill="#000">59</text>
<text transform="translate(65.5 1210.12) scale(1.03 1)" font-size="24.3" text-anchor="end" fill="#000">60</text>
<text transform="translate(65.5 1200.06) scale(1.03 1)" font-size="24.3" text-anchor="end" fill="#000">61</text>
<text transform="translate(65.5 1190) scale(1.03 1)" font-size="24.3" text-anchor="end" fill="#000">62</text>
<text transform="translate(65.5 1179.93) scale(1.03 1)" font-size="24.3" text-anchor="end" fill="#000">63</text>
<text transform="translate(65.5 1169.87) scale(1.03 1)" font-size="24.3" text-anchor="end" fill="#000">64</text>
<text transform="translate(65.5 1159.8) scale(1.03 1)" font-size="24.3" text-anchor="end" fill="#000">65</text>
<text transform="translate(65.5 1149.74) scale(1.03 1)" font-size="24.3" text-anchor="end" fill="#000">66</text>
<text transform="translate(65.5 1139.68) scale(1.03 1)" font-size="24.3" text-anchor="end" fill="#000">67</text>
<text transform="translate(65.5 1129.61) scale(1.03 1)" font-size="24.3" text-anchor="end" fill="#000">68</text>
<text transform="translate(65.5 1119.55) scale(1.03 1)" font-size="24.3" text-anchor="end" fill="#000">69</text>
<text transform="translate(65.5 1109.48) scale(1.03 1)" font-size="24.3" text-anchor="end" fill="#000">70</text>
<text transform="translate(65.5 1099.42) scale(1.03 1)" font-size="24.3" text-anchor="end" fill="#000">71</text>
<text transform="translate(65.5 1089.36) scale(1.03 1)" font-size="24.3" text-anchor="end" fill="#000">72</text>
<text transform="translate(65.5 1079.29) scale(1.03 1)" font-size="24.3" text-anchor="end" fill="#000">73</text>
<text transform="translate(65.5 1069.23) scale(1.03 1)" font-size="24.3" text-anchor="end" fill="#000">74</text>
<text transform="translate(65.5 1059.16) scale(1.03 1)" font-size="24.3" text-anchor="end" fill="#000">75</text>
<text transform="translate(65.5 1049.1) scale(1.03 1)" font-size="24.3" text-anchor="end" fill="#000">76</text>
<text transform="translate(65.5 1039.04) scale(1.03 1)" font-size="24.3" text-anchor="end" fill="#000">77</text>
<text transform="translate(65.5 1028.97) scale(1.03 1)" font-size="24.3" text-anchor="end" fill="#000">78</text>
<text transform="translate(65.5 1018.91) scale(1.03 1)" font-size="24.3" text-anchor="end" fill="#000">79</text>
<text transform="translate(65.5 1008.84) scale(1.03 1)" font-size="24.3" text-anchor="end" fill="#000">80</text>
<text transform="translate(65.5 998.78) scale(1.03 1)" font-size="24.3" text-anchor="end" fill="#000">81</text>
<text transform="translate(65.5 988.72) scale(1.03 1)" font-size="24.3" text-anchor="end" fill="#000">82</text>
<text transform="translate(65.5 978.65) scale(1.03 1)" font-size="24.3" text-anchor="end" fill="#000">83</text>
<text transform="translate(65.5 968.59) scale(1.03 1)" font-size="24.3" text-anchor="end" fill="#000">84</text>
<text transform="translate(65.5 958.52) scale(1.03 1)" font-size="24.3" text-anchor="end" fill="#000">85</text>
<text transform="translate(65.5 948.46) scale(1.03 1)" font-size="24.3" text-anchor="end" fill="#000">86</text>
<text transform="translate(65.5 938.4) scale(1.03 1)" font-size="24.3" text-anchor="end" fill="#000">87</text>
<text transform="translate(65.5 928.33) scale(1.03 1)" font-size="24.3" text-anchor="end" fill="#000">88</text>
<text transform="translate(65.5 918.27) scale(1.03 1)" font-size="24.3" text-anchor="end" fill="#000">89</text>
<text transform="translate(65.5 908.2) scale(1.03 1)" font-size="24.3" text-anchor="end" fill="#000">90</text>
<text transform="translate(65.5 898.14) scale(1.03 1)" font-size="24.3" text-anchor="end" fill="#000">91</text>
<text transform="translate(65.5 888.08) scale(1.03 1)" font-size="24.3" text-anchor="end" fill="#000">92</text>
<text transform="translate(65.5 878.01) scale(1.03 1)" font-size="24.3" text-anchor="end" fill="#000">93</text>
<text transform="translate(65.5 867.95) scale(1.03 1)" font-size="24.3" text-anchor="end" fill="#000">94</text>
<text transform="translate(65.5 857.88) scale(1.03 1)" font-size="24.3" text-anchor="end" fill="#000">95</text>
<text transform="translate(65.5 847.82) scale(1.03 1)" font-size="24.3" text-anchor="end" fill="#000">96</text>
<text transform="translate(65.5 837.76) scale(1.03 1)" font-size="24.3" text-anchor="end" fill="#000">97</text>
<text transform="translate(65.5 827.69) scale(1.03 1)" font-size="24.3" text-anchor="end" fill="#000">98</text>
<text transform="translate(65.5 817.63) scale(1.03 1)" font-size="24.3" text-anchor="end" fill="#000">99</text>
<text transform="translate(107.6 1859.2)" font-size="24.3" text-anchor="middle" fill="#1a1a1a">0</text>
<text transform="translate(1039.5 1895.2)" font-size="28.2" text-anchor="middle" fill="#1a1a1a">Time(ms)</text>
<text transform="translate(24 1303.8) rotate(-90) scale(1 1.11)" font-size="26.7" text-anchor="middle" fill="#1a1a1a">Neuron ID</text>
<g clip-path="url(#cc)">
<rect x="106.05" y="926.4" width="5.1" height="6.4" fill="#000"/>
<rect x="114.98" y="926.4" width="5.1" height="6.4" fill="#000"/>
<rect x="123.91" y="926.4" width="5.1" height="6.4" fill="#000"/>
<rect x="132.84" y="926.4" width="5.1" height="6.4" fill="#000"/>
<rect x="106.05" y="976.72" width="5.1" height="6.4" fill="#000"/>
<rect x="114.98" y="976.72" width="5.1" height="6.4" fill="#000"/>
<rect x="123.91" y="976.72" width="5.1" height="6.4" fill="#000"/>
<rect x="132.84" y="976.72" width="5.1" height="6.4" fill="#000"/>
<rect x="106.05" y="996.84" width="5.1" height="6.4" fill="#000"/>
<rect x="114.98" y="996.84" width="5.1" height="6.4" fill="#000"/>
<rect x="123.91" y="996.84" width="5.1" height="6.4" fill="#000"/>
<rect x="132.84" y="996.84" width="5.1" height="6.4" fill="#000"/>
<rect x="106.05" y="1027.04" width="5.1" height="6.4" fill="#000"/>
<rect x="114.98" y="1027.04" width="5.1" height="6.4" fill="#000"/>
<rect x="123.91" y="1027.04" width="5.1" height="6.4" fill="#000"/>
<rect x="132.84" y="1027.04" width="5.1" height="6.4" fill="#000"/>
<rect x="106.05" y="1167.93" width="5.1" height="6.4" fill="#000"/>
<rect x="114.98" y="1167.93" width="5.1" height="6.4" fill="#000"/>
<rect x="123.91" y="1167.93" width="5.1" height="6.4" fill="#000"/>
<rect x="132.84" y="1167.93" width="5.1" height="6.4" fill="#000"/>
<rect x="106.05" y="1278.64" width="5.1" height="6.4" fill="#000"/>
<rect x="114.98" y="1278.64" width="5.1" height="6.4" fill="#000"/>
<rect x="123.91" y="1278.64" width="5.1" height="6.4" fill="#000"/>
<rect x="132.84" y="1278.64" width="5.1" height="6.4" fill="#000"/>
<rect x="106.05" y="1308.83" width="5.1" height="6.4" fill="#000"/>
<rect x="114.98" y="1308.83" width="5.1" height="6.4" fill="#000"/>
<rect x="123.91" y="1308.83" width="5.1" height="6.4" fill="#000"/>
<rect x="132.84" y="1308.83" width="5.1" height="6.4" fill="#000"/>
<rect x="106.05" y="1389.34" width="5.1" height="6.4" fill="#000"/>
<rect x="114.98" y="1389.34" width="5.1" height="6.4" fill="#000"/>
<rect x="123.91" y="1389.34" width="5.1" height="6.4" fill="#000"/>
<rect x="132.84" y="1389.34" width="5.1" height="6.4" fill="#000"/>
<rect x="106.05" y="1449.72" width="5.1" height="6.4" fill="#000"/>
<rect x="114.98" y="1449.72" width="5.1" height="6.4" fill="#000"/>
<rect x="123.91" y="1449.72" width="5.1" height="6.4" fill="#000"/>
<rect x="132.84" y="1449.72" width="5.1" height="6.4" fill="#000"/>
<rect x="106.05" y="1157.87" width="5.1" height="6.4" fill="#000"/>
<rect x="114.98" y="1157.87" width="5.1" height="6.4" fill="#000"/>
<rect x="123.91" y="1157.87" width="5.1" height="6.4" fill="#000"/>
<rect x="106.05" y="1188.06" width="5.1" height="6.4" fill="#000"/>
<rect x="114.98" y="1188.06" width="5.1" height="6.4" fill="#000"/>
<rect x="106.05" y="1339.02" width="5.1" height="6.4" fill="#000"/>
<rect x="106.05" y="1530.24" width="5.1" height="6.4" fill="#000"/>
<rect x="106.05" y="1630.88" width="5.1" height="6.4" fill="#000"/>
<rect x="114.98" y="1630.88" width="5.1" height="6.4" fill="#000"/>
<rect x="123.91" y="1630.88" width="5.1" height="6.4" fill="#000"/>
<rect x="106.05" y="1661.07" width="5.1" height="6.4" fill="#000"/>
<rect x="114.98" y="1661.07" width="5.1" height="6.4" fill="#000"/>
<rect x="123.91" y="1661.07" width="5.1" height="6.4" fill="#000"/>
<rect x="132.84" y="1661.07" width="5.1" height="6.4" fill="#000"/>
<rect x="141.77" y="1661.07" width="5.1" height="6.4" fill="#000"/>
<rect x="150.7" y="1661.07" width="5.1" height="6.4" fill="#000"/>
<rect x="159.63" y="1661.07" width="5.1" height="6.4" fill="#000"/>
<rect x="168.56" y="1661.07" width="5.1" height="6.4" fill="#000"/>
<rect x="177.49" y="1661.07" width="5.1" height="6.4" fill="#000"/>
<rect x="106.05" y="1691.26" width="5.1" height="6.4" fill="#000"/>
<rect x="114.98" y="1691.26" width="5.1" height="6.4" fill="#000"/>
<rect x="649.35" y="815.69" width="5.1" height="6.4" fill="#000"/>
<rect x="689.45" y="815.69" width="5.1" height="6.4" fill="#000"/>
<rect x="691.15" y="835.82" width="5.1" height="6.4" fill="#000"/>
<rect x="649.35" y="866.01" width="5.1" height="6.4" fill="#000"/>
<rect x="686.45" y="866.01" width="5.1" height="6.4" fill="#000"/>
<rect x="691.15" y="886.14" width="5.1" height="6.4" fill="#000"/>
<rect x="621.55" y="896.2" width="5.1" height="6.4" fill="#000"/>
<rect x="688.05" y="896.2" width="5.1" height="6.4" fill="#000"/>
<rect x="691.15" y="906.27" width="5.1" height="6.4" fill="#000"/>
<rect x="619.75" y="956.59" width="5.1" height="6.4" fill="#000"/>
<rect x="623.25" y="966.65" width="5.1" height="6.4" fill="#000"/>
<rect x="649.35" y="986.78" width="5.1" height="6.4" fill="#000"/>
<rect x="686.45" y="986.78" width="5.1" height="6.4" fill="#000"/>
<rect x="623.25" y="1047.16" width="5.1" height="6.4" fill="#000"/>
<rect x="408.95" y="1067.29" width="5.1" height="6.4" fill="#000"/>
<rect x="619.75" y="1077.36" width="5.1" height="6.4" fill="#000"/>
<rect x="423.55" y="1087.42" width="5.1" height="6.4" fill="#000"/>
<rect x="423.45" y="1117.61" width="5.1" height="6.4" fill="#000"/>
<rect x="621.55" y="1127.68" width="5.1" height="6.4" fill="#000"/>
<rect x="580.05" y="1238.38" width="5.1" height="6.4" fill="#000"/>
<rect x="643.35" y="1308.83" width="5.1" height="6.4" fill="#000"/>
<rect x="652.15" y="1308.83" width="5.1" height="6.4" fill="#000"/>
<rect x="623.05" y="1349.08" width="5.1" height="6.4" fill="#000"/>
<rect x="691.15" y="1349.08" width="5.1" height="6.4" fill="#000"/>
<rect x="621.45" y="1379.28" width="5.1" height="6.4" fill="#000"/>
<rect x="643.35" y="1449.72" width="5.1" height="6.4" fill="#000"/>
<rect x="652.15" y="1449.72" width="5.1" height="6.4" fill="#000"/>
<rect x="621.45" y="1479.92" width="5.1" height="6.4" fill="#000"/>
<rect x="688.25" y="1479.92" width="5.1" height="6.4" fill="#000"/>
<rect x="623.05" y="1570.49" width="5.1" height="6.4" fill="#000"/>
<rect x="643.35" y="1630.88" width="5.1" height="6.4" fill="#000"/>
<rect x="652.15" y="1630.88" width="5.1" height="6.4" fill="#000"/>
<rect x="688.25" y="1711.39" width="5.1" height="6.4" fill="#000"/>
<rect x="649.35" y="1741.58" width="5.1" height="6.4" fill="#000"/>
<rect x="689.25" y="1741.58" width="5.1" height="6.4" fill="#000"/>
<rect x="643.35" y="1771.77" width="5.1" height="6.4" fill="#000"/>
<rect x="643.45" y="1801.96" width="5.1" height="6.4" fill="#000"/>
<rect x="689.45" y="1801.96" width="5.1" height="6.4" fill="#000"/>
<rect x="769.05" y="845.88" width="5.1" height="6.4" fill="#000"/>
<rect x="847.35" y="966.65" width="5.1" height="6.4" fill="#000"/>
<rect x="847.35" y="1077.36" width="5.1" height="6.4" fill="#000"/>
<rect x="769.05" y="1208.19" width="5.1" height="6.4" fill="#000"/>
<rect x="770.55" y="1258.51" width="5.1" height="6.4" fill="#000"/>
<rect x="770.55" y="1298.76" width="5.1" height="6.4" fill="#000"/>
<rect x="847.35" y="1479.92" width="5.1" height="6.4" fill="#000"/>
<rect x="770.55" y="1721.45" width="5.1" height="6.4" fill="#000"/>
<rect x="779.55" y="1781.84" width="5.1" height="6.4" fill="#000"/>
<rect x="1115.05" y="966.65" width="5.1" height="6.4" fill="#000"/>
<rect x="1102.95" y="1681.2" width="5.1" height="6.4" fill="#000"/>
<rect x="1533.25" y="1681.2" width="5.1" height="6.4" fill="#000"/>
<rect x="1717.35" y="876.08" width="5.1" height="6.4" fill="#000"/>
<rect x="1778.45" y="1409.47" width="5.1" height="6.4" fill="#000"/>
<rect x="1755.85" y="1590.62" width="5.1" height="6.4" fill="#000"/>
<rect x="1778.45" y="1590.62" width="5.1" height="6.4" fill="#000"/>
<rect x="1755.85" y="1681.2" width="5.1" height="6.4" fill="#000"/>
<rect x="1778.45" y="1681.2" width="5.1" height="6.4" fill="#000"/>
<rect x="642.25" y="1661.07" width="5.1" height="6.4" fill="#000"/>
<rect x="651.15" y="1661.07" width="5.1" height="6.4" fill="#000"/>
<rect x="660.05" y="1661.07" width="5.1" height="6.4" fill="#000"/>
<rect x="668.95" y="1661.07" width="5.1" height="6.4" fill="#000"/>
<rect x="677.85" y="1661.07" width="5.1" height="6.4" fill="#000"/>
<rect x="686.75" y="1661.07" width="5.1" height="6.4" fill="#000"/>
<rect x="1100.05" y="976.72" width="5.1" height="6.4" fill="#000"/>
<rect x="1108.95" y="976.72" width="5.1" height="6.4" fill="#000"/>
<rect x="1117.85" y="976.72" width="5.1" height="6.4" fill="#000"/>
<rect x="1126.75" y="976.72" width="5.1" height="6.4" fill="#000"/>
<rect x="1135.65" y="976.72" width="5.1" height="6.4" fill="#000"/>
<rect x="1144.55" y="976.72" width="5.1" height="6.4" fill="#000"/>
<rect x="1153.45" y="976.72" width="5.1" height="6.4" fill="#000"/>
<rect x="1162.35" y="976.72" width="5.1" height="6.4" fill="#000"/>
<rect x="1171.25" y="976.72" width="5.1" height="6.4" fill="#000"/>
<rect x="1715.55" y="926.4" width="5.1" height="6.4" fill="#000"/>
<rect x="1724.55" y="926.4" width="5.1" height="6.4" fill="#000"/>
<rect x="1733.55" y="926.4" width="5.1" height="6.4" fill="#000"/>
<rect x="1742.55" y="926.4" width="5.1" height="6.4" fill="#000"/>
<rect x="1751.55" y="926.4" width="5.1" height="6.4" fill="#000"/>
<rect x="1718.85" y="976.72" width="5.1" height="6.4" fill="#000"/>
<rect x="1727.65" y="976.72" width="5.1" height="6.4" fill="#000"/>
<rect x="1736.45" y="976.72" width="5.1" height="6.4" fill="#000"/>
<rect x="1745.25" y="976.72" width="5.1" height="6.4" fill="#000"/>
<rect x="1754.05" y="976.72" width="5.1" height="6.4" fill="#000"/>
<rect x="1762.85" y="976.72" width="5.1" height="6.4" fill="#000"/>
<rect x="1771.65" y="976.72" width="5.1" height="6.4" fill="#000"/>
<rect x="1739.45" y="996.84" width="5.1" height="6.4" fill="#000"/>
<rect x="1748.4" y="996.84" width="5.1" height="6.4" fill="#000"/>
<rect x="1757.35" y="996.84" width="5.1" height="6.4" fill="#000"/>
<rect x="1766.3" y="996.84" width="5.1" height="6.4" fill="#000"/>
<rect x="1775.25" y="996.84" width="5.1" height="6.4" fill="#000"/>
<rect x="1784.2" y="996.84" width="5.1" height="6.4" fill="#000"/>
<rect x="1793.15" y="996.84" width="5.1" height="6.4" fill="#000"/>
<rect x="1736.95" y="1027.04" width="5.1" height="6.4" fill="#000"/>
<rect x="1745.65" y="1027.04" width="5.1" height="6.4" fill="#000"/>
<rect x="1754.35" y="1027.04" width="5.1" height="6.4" fill="#000"/>
<rect x="1763.05" y="1027.04" width="5.1" height="6.4" fill="#000"/>
<rect x="1771.75" y="1027.04" width="5.1" height="6.4" fill="#000"/>
<rect x="1739.45" y="1167.93" width="5.1" height="6.4" fill="#000"/>
<rect x="1748.4" y="1167.93" width="5.1" height="6.4" fill="#000"/>
<rect x="1757.35" y="1167.93" width="5.1" height="6.4" fill="#000"/>
<rect x="1766.3" y="1167.93" width="5.1" height="6.4" fill="#000"/>
<rect x="1775.25" y="1167.93" width="5.1" height="6.4" fill="#000"/>
<rect x="1784.2" y="1167.93" width="5.1" height="6.4" fill="#000"/>
<rect x="1793.15" y="1167.93" width="5.1" height="6.4" fill="#000"/>
<rect x="1739.45" y="1661.07" width="5.1" height="6.4" fill="#000"/>
<rect x="1748.4" y="1661.07" width="5.1" height="6.4" fill="#000"/>
<rect x="1757.35" y="1661.07" width="5.1" height="6.4" fill="#000"/>
<rect x="1766.3" y="1661.07" width="5.1" height="6.4" fill="#000"/>
<rect x="1775.25" y="1661.07" width="5.1" height="6.4" fill="#000"/>
<rect x="1784.2" y="1661.07" width="5.1" height="6.4" fill="#000"/>
<rect x="1793.15" y="1661.07" width="5.1" height="6.4" fill="#000"/>
</g>
</svg>
</body></html>
